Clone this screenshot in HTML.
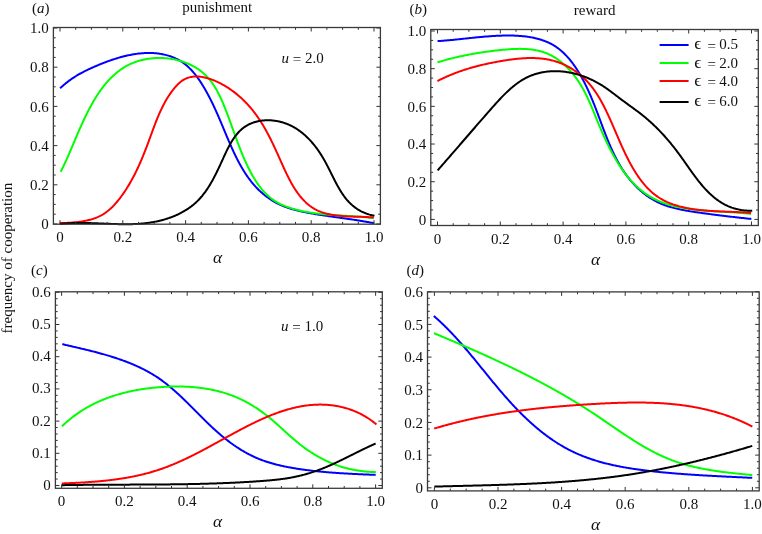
<!DOCTYPE html>
<html><head><meta charset="utf-8"><style>
html,body{margin:0;padding:0;background:#fff;}
svg{display:block;will-change:transform;}
text{font-family:"Liberation Serif", serif;fill:#111;}
</style></head><body>
<svg width="762" height="534" viewBox="0 0 762 534">
<path d="M60.13,88.32L60.89,87.59L61.65,86.88L62.42,86.18L63.19,85.49L63.96,84.81L64.74,84.15L65.53,83.50L66.31,82.86L67.11,82.23L67.91,81.62L68.71,81.01L69.52,80.41L70.33,79.83L71.15,79.25L71.97,78.68L72.80,78.13L73.63,77.58L74.47,77.04L75.31,76.51L76.15,75.99L77.00,75.48L77.85,74.97L78.71,74.47L79.57,73.98L80.44,73.50L81.31,73.02L82.18,72.55L83.06,72.09L83.94,71.63L84.83,71.18L85.72,70.73L86.62,70.29L87.52,69.85L88.42,69.42L89.33,69.00L90.24,68.57L91.16,68.16L92.08,67.74L93.00,67.33L93.93,66.92L94.86,66.52L95.79,66.12L96.73,65.72L97.68,65.32L98.62,64.93L99.57,64.53L100.52,64.15L101.48,63.76L102.44,63.38L103.40,63.00L104.37,62.63L105.34,62.26L106.31,61.89L107.29,61.53L108.26,61.18L109.24,60.82L110.23,60.48L111.21,60.14L112.20,59.80L113.19,59.47L114.18,59.15L115.18,58.83L116.17,58.51L117.17,58.21L118.17,57.91L119.17,57.62L120.17,57.33L121.18,57.05L122.18,56.78L123.19,56.52L124.20,56.26L125.21,56.02L126.22,55.78L127.23,55.55L128.25,55.32L129.26,55.11L130.27,54.91L131.29,54.71L132.30,54.52L133.32,54.35L134.33,54.18L135.35,54.02L136.37,53.87L137.38,53.74L138.40,53.61L139.42,53.50L140.43,53.39L141.45,53.30L142.46,53.22L143.48,53.14L144.49,53.09L145.51,53.04L146.52,53.00L147.53,52.98L148.54,52.97L149.55,52.97L150.56,52.99L151.57,53.01L152.57,53.05L153.58,53.11L154.58,53.18L155.58,53.26L156.57,53.35L157.57,53.46L158.56,53.59L159.55,53.72L160.53,53.87L161.51,54.04L162.48,54.22L163.46,54.42L164.42,54.63L165.38,54.85L166.34,55.10L167.29,55.35L168.23,55.62L169.17,55.91L170.11,56.22L171.03,56.54L171.95,56.87L172.86,57.22L173.77,57.59L174.66,57.98L175.55,58.38L176.43,58.80L177.30,59.24L178.17,59.69L179.02,60.16L179.87,60.65L180.70,61.16L181.53,61.68L182.34,62.22L183.15,62.78L183.94,63.36L184.73,63.96L185.50,64.57L186.26,65.20L187.02,65.85L187.76,66.51L188.49,67.19L189.22,67.88L189.93,68.59L190.64,69.31L191.33,70.04L192.02,70.79L192.70,71.54L193.37,72.31L194.03,73.10L194.68,73.89L195.32,74.69L195.95,75.50L196.58,76.32L197.20,77.15L197.81,77.99L198.41,78.83L199.01,79.68L199.59,80.54L200.17,81.41L200.75,82.28L201.31,83.15L201.87,84.03L202.42,84.91L202.97,85.80L203.51,86.69L204.04,87.58L204.56,88.47L205.08,89.37L205.60,90.26L206.10,91.16L206.61,92.06L207.10,92.96L207.59,93.86L208.08,94.76L208.56,95.66L209.03,96.56L209.50,97.46L209.97,98.37L210.43,99.27L210.88,100.18L211.34,101.09L211.78,102.00L212.23,102.90L212.67,103.81L213.11,104.73L213.54,105.64L213.97,106.55L214.39,107.47L214.82,108.38L215.24,109.30L215.65,110.21L216.07,111.13L216.48,112.05L216.89,112.97L217.30,113.89L217.70,114.81L218.11,115.74L218.51,116.66L218.91,117.58L219.31,118.51L219.70,119.44L220.10,120.37L220.49,121.29L220.89,122.22L221.28,123.16L221.67,124.09L222.06,125.02L222.45,125.95L222.85,126.89L223.24,127.82L223.63,128.76L224.02,129.70L224.41,130.64L224.80,131.58L225.20,132.52L225.59,133.46L225.99,134.40L226.38,135.35L226.78,136.29L227.18,137.24L227.58,138.18L227.98,139.13L228.39,140.08L228.79,141.02L229.20,141.97L229.61,142.92L230.02,143.86L230.43,144.81L230.85,145.75L231.27,146.70L231.69,147.64L232.12,148.58L232.55,149.53L232.98,150.46L233.41,151.40L233.85,152.34L234.29,153.27L234.73,154.21L235.18,155.14L235.63,156.06L236.09,156.99L236.55,157.91L237.02,158.83L237.48,159.75L237.96,160.66L238.44,161.57L238.92,162.48L239.40,163.38L239.90,164.28L240.39,165.18L240.90,166.07L241.40,166.96L241.92,167.84L242.44,168.72L242.96,169.59L243.49,170.46L244.03,171.33L244.57,172.18L245.12,173.04L245.67,173.89L246.23,174.73L246.80,175.57L247.37,176.40L247.95,177.22L248.54,178.04L249.14,178.85L249.74,179.66L250.35,180.46L250.96,181.25L251.59,182.03L252.22,182.81L252.86,183.58L253.51,184.35L254.16,185.10L254.83,185.85L255.50,186.59L256.18,187.32L256.87,188.05L257.56,188.76L258.27,189.47L258.98,190.17L259.71,190.86L260.44,191.54L261.18,192.21L261.92,192.87L262.68,193.52L263.44,194.16L264.21,194.80L264.99,195.42L265.78,196.03L266.57,196.64L267.38,197.23L268.19,197.81L269.00,198.39L269.83,198.95L270.66,199.50L271.50,200.04L272.35,200.57L273.20,201.08L274.06,201.59L274.93,202.08L275.80,202.57L276.69,203.04L277.58,203.50L278.47,203.94L279.37,204.38L280.28,204.80L281.20,205.21L282.12,205.61L283.04,205.99L283.98,206.37L284.92,206.73L285.86,207.08L286.81,207.42L287.77,207.76L288.72,208.08L289.69,208.39L290.66,208.69L291.63,208.99L292.61,209.27L293.59,209.55L294.57,209.82L295.56,210.08L296.55,210.33L297.54,210.58L298.54,210.82L299.54,211.05L300.54,211.28L301.54,211.50L302.55,211.72L303.55,211.93L304.56,212.13L305.57,212.33L306.58,212.53L307.59,212.72L308.61,212.91L309.62,213.09L310.63,213.28L311.65,213.45L312.66,213.63L313.67,213.80L314.69,213.98L315.70,214.14L316.72,214.31L317.73,214.48L318.74,214.64L319.76,214.80L320.77,214.96L321.78,215.11L322.79,215.27L323.81,215.42L324.82,215.58L325.83,215.73L326.84,215.88L327.86,216.02L328.87,216.17L329.88,216.32L330.89,216.46L331.90,216.61L332.91,216.75L333.92,216.89L334.93,217.04L335.94,217.18L336.95,217.32L337.96,217.46L338.97,217.61L339.97,217.75L340.98,217.89L341.99,218.03L343.00,218.17L344.00,218.32L345.01,218.46L346.01,218.60L347.02,218.75L348.02,218.89L349.03,219.04L350.03,219.18L351.03,219.33L352.03,219.48L353.03,219.63L354.03,219.78L355.03,219.94L356.03,220.09L357.03,220.25L358.03,220.41L359.03,220.57L360.02,220.73L361.02,220.89L362.01,221.06L363.01,221.23L364.00,221.40L364.99,221.57L365.99,221.74L366.98,221.92L367.97,222.10L368.96,222.29L369.95,222.47L370.93,222.66L371.92,222.85L372.91,223.05L373.89,223.25" fill="none" stroke="#0000ff" stroke-width="2" stroke-linejoin="round" stroke-linecap="butt"/>
<path d="M60.70,171.70L61.16,170.83L61.61,169.94L62.06,169.05L62.52,168.15L62.97,167.23L63.41,166.31L63.86,165.38L64.31,164.44L64.75,163.49L65.20,162.53L65.64,161.57L66.09,160.59L66.53,159.61L66.97,158.62L67.42,157.63L67.86,156.62L68.30,155.61L68.75,154.60L69.19,153.58L69.63,152.55L70.08,151.51L70.52,150.47L70.97,149.43L71.41,148.38L71.86,147.32L72.31,146.27L72.76,145.20L73.21,144.14L73.66,143.06L74.12,141.99L74.57,140.91L75.03,139.83L75.49,138.75L75.95,137.66L76.42,136.57L76.88,135.48L77.35,134.39L77.82,133.30L78.29,132.20L78.77,131.11L79.25,130.01L79.73,128.91L80.21,127.81L80.70,126.72L81.19,125.62L81.69,124.52L82.19,123.43L82.69,122.33L83.19,121.24L83.70,120.14L84.22,119.05L84.73,117.96L85.25,116.87L85.78,115.79L86.31,114.71L86.85,113.63L87.39,112.55L87.93,111.48L88.48,110.41L89.03,109.35L89.59,108.28L90.16,107.23L90.73,106.18L91.30,105.13L91.88,104.09L92.47,103.05L93.06,102.02L93.66,100.99L94.26,99.97L94.87,98.96L95.49,97.96L96.11,96.96L96.74,95.96L97.38,94.98L98.02,94.00L98.67,93.03L99.33,92.07L99.99,91.12L100.66,90.17L101.34,89.24L102.02,88.31L102.72,87.39L103.42,86.48L104.13,85.59L104.84,84.70L105.57,83.82L106.30,82.95L107.04,82.10L107.79,81.25L108.54,80.42L109.31,79.59L110.08,78.78L110.87,77.98L111.66,77.20L112.46,76.42L113.27,75.66L114.09,74.91L114.92,74.18L115.76,73.46L116.61,72.75L117.46,72.05L118.33,71.37L119.21,70.71L120.09,70.06L120.99,69.42L121.90,68.80L122.82,68.20L123.75,67.61L124.69,67.03L125.64,66.48L126.60,65.93L127.57,65.41L128.55,64.90L129.55,64.41L130.55,63.94L131.57,63.49L132.60,63.05L133.64,62.63L134.69,62.23L135.75,61.85L136.82,61.48L137.90,61.14L138.99,60.81L140.09,60.50L141.20,60.21L142.32,59.93L143.44,59.68L144.57,59.44L145.71,59.22L146.85,59.02L148.00,58.83L149.15,58.67L150.31,58.52L151.48,58.39L152.64,58.28L153.81,58.19L154.99,58.11L156.16,58.05L157.34,58.01L158.52,57.99L159.70,57.99L160.89,58.01L162.07,58.04L163.25,58.09L164.43,58.16L165.62,58.25L166.80,58.36L167.97,58.48L169.15,58.62L170.32,58.78L171.49,58.96L172.66,59.16L173.82,59.37L174.97,59.60L176.13,59.85L177.27,60.12L178.41,60.41L179.55,60.71L180.68,61.03L181.80,61.37L182.91,61.73L184.01,62.11L185.11,62.51L186.19,62.92L187.27,63.35L188.34,63.80L189.40,64.27L190.44,64.75L191.48,65.25L192.50,65.78L193.51,66.31L194.51,66.87L195.49,67.45L196.47,68.04L197.42,68.65L198.37,69.28L199.30,69.93L200.21,70.59L201.11,71.28L201.99,71.98L202.85,72.70L203.70,73.44L204.53,74.19L205.34,74.97L206.14,75.76L206.91,76.57L207.68,77.39L208.42,78.23L209.15,79.08L209.87,79.96L210.57,80.84L211.25,81.74L211.92,82.65L212.58,83.57L213.22,84.51L213.85,85.46L214.47,86.42L215.07,87.39L215.66,88.37L216.24,89.36L216.81,90.37L217.37,91.37L217.92,92.39L218.46,93.42L218.98,94.45L219.50,95.49L220.01,96.54L220.51,97.59L221.00,98.65L221.49,99.71L221.96,100.78L222.43,101.85L222.90,102.93L223.35,104.01L223.80,105.09L224.25,106.17L224.68,107.26L225.12,108.34L225.55,109.43L225.97,110.51L226.39,111.60L226.81,112.68L227.22,113.77L227.63,114.85L228.04,115.94L228.44,117.02L228.84,118.10L229.24,119.18L229.64,120.27L230.03,121.35L230.42,122.43L230.81,123.51L231.20,124.59L231.59,125.67L231.98,126.75L232.37,127.83L232.75,128.91L233.14,129.98L233.52,131.06L233.91,132.14L234.30,133.21L234.68,134.29L235.07,135.36L235.46,136.43L235.85,137.51L236.24,138.58L236.63,139.65L237.03,140.72L237.42,141.79L237.82,142.86L238.22,143.93L238.63,144.99L239.03,146.06L239.44,147.13L239.86,148.19L240.27,149.26L240.69,150.32L241.12,151.38L241.55,152.44L241.98,153.50L242.42,154.56L242.86,155.62L243.31,156.68L243.76,157.74L244.22,158.79L244.68,159.85L245.15,160.90L245.63,161.95L246.11,163.00L246.60,164.06L247.10,165.10L247.60,166.15L248.11,167.20L248.63,168.25L249.15,169.29L249.69,170.33L250.23,171.37L250.78,172.41L251.33,173.44L251.90,174.47L252.47,175.50L253.06,176.51L253.65,177.53L254.26,178.53L254.87,179.53L255.49,180.52L256.13,181.50L256.77,182.47L257.42,183.44L258.09,184.39L258.77,185.33L259.45,186.26L260.15,187.18L260.86,188.09L261.59,188.99L262.32,189.87L263.07,190.73L263.83,191.58L264.60,192.42L265.39,193.24L266.18,194.04L267.00,194.83L267.82,195.60L268.66,196.35L269.52,197.09L270.38,197.80L271.27,198.49L272.16,199.17L273.08,199.82L274.00,200.45L274.95,201.06L275.90,201.65L276.87,202.21L277.85,202.76L278.85,203.29L279.85,203.81L280.87,204.30L281.90,204.78L282.94,205.24L283.99,205.68L285.04,206.11L286.11,206.52L287.18,206.92L288.26,207.30L289.35,207.67L290.44,208.02L291.54,208.36L292.64,208.69L293.75,209.01L294.86,209.32L295.97,209.62L297.09,209.90L298.21,210.18L299.33,210.45L300.45,210.70L301.58,210.95L302.71,211.19L303.84,211.42L304.98,211.64L306.12,211.85L307.26,212.05L308.40,212.25L309.54,212.44L310.68,212.62L311.83,212.79L312.98,212.96L314.13,213.12L315.28,213.27L316.43,213.42L317.59,213.56L318.74,213.70L319.90,213.83L321.05,213.95L322.21,214.07L323.37,214.19L324.53,214.30L325.69,214.40L326.85,214.50L328.01,214.60L329.18,214.70L330.34,214.79L331.50,214.88L332.66,214.96L333.83,215.05L334.99,215.13L336.15,215.20L337.31,215.28L338.48,215.36L339.64,215.43L340.80,215.50L341.96,215.57L343.12,215.65L344.28,215.72L345.44,215.79L346.60,215.86L347.75,215.93L348.91,216.00L350.06,216.07L351.21,216.14L352.37,216.22L353.52,216.30L354.66,216.37L355.81,216.45L356.96,216.54L358.10,216.62L359.24,216.71L360.38,216.80L361.52,216.89L362.65,216.99L363.79,217.09L364.92,217.19L366.05,217.30L367.17,217.42L368.30,217.54L369.42,217.66L370.53,217.79L371.65,217.92L372.76,218.06L373.87,218.21" fill="none" stroke="#00ff00" stroke-width="2" stroke-linejoin="round" stroke-linecap="butt"/>
<path d="M59.68,223.11L60.79,223.08L61.92,223.05L63.05,223.02L64.19,222.99L65.34,222.95L66.50,222.90L67.66,222.85L68.83,222.79L70.00,222.72L71.17,222.64L72.35,222.56L73.53,222.46L74.72,222.36L75.90,222.24L77.08,222.12L78.27,221.98L79.45,221.83L80.63,221.66L81.81,221.48L82.98,221.29L84.15,221.08L85.32,220.85L86.48,220.61L87.63,220.35L88.78,220.07L89.92,219.77L91.05,219.46L92.17,219.12L93.28,218.77L94.38,218.39L95.47,217.99L96.55,217.56L97.62,217.12L98.67,216.65L99.71,216.15L100.73,215.63L101.74,215.08L102.73,214.51L103.70,213.91L104.66,213.29L105.60,212.64L106.52,211.96L107.43,211.27L108.33,210.55L109.21,209.81L110.08,209.05L110.93,208.27L111.77,207.48L112.59,206.67L113.40,205.84L114.20,205.00L114.99,204.14L115.77,203.27L116.53,202.39L117.28,201.50L118.02,200.59L118.75,199.68L119.47,198.76L120.19,197.84L120.89,196.91L121.58,195.97L122.26,195.03L122.94,194.08L123.60,193.13L124.26,192.18L124.90,191.21L125.54,190.25L126.17,189.28L126.80,188.31L127.41,187.33L128.02,186.34L128.62,185.36L129.21,184.37L129.80,183.37L130.37,182.37L130.95,181.37L131.51,180.36L132.07,179.35L132.62,178.34L133.16,177.32L133.70,176.30L134.23,175.27L134.75,174.24L135.27,173.21L135.78,172.17L136.29,171.14L136.79,170.09L137.29,169.05L137.78,168.00L138.27,166.95L138.75,165.90L139.23,164.84L139.70,163.78L140.17,162.72L140.63,161.66L141.09,160.59L141.54,159.52L141.99,158.45L142.44,157.38L142.88,156.30L143.32,155.22L143.76,154.14L144.19,153.06L144.63,151.98L145.05,150.89L145.48,149.80L145.90,148.71L146.32,147.62L146.74,146.53L147.15,145.43L147.56,144.34L147.97,143.24L148.38,142.14L148.79,141.04L149.20,139.94L149.60,138.84L150.01,137.74L150.41,136.64L150.81,135.53L151.21,134.43L151.62,133.33L152.02,132.22L152.43,131.12L152.83,130.01L153.24,128.91L153.65,127.81L154.06,126.71L154.48,125.61L154.89,124.51L155.31,123.41L155.74,122.32L156.17,121.22L156.60,120.13L157.04,119.04L157.49,117.95L157.93,116.87L158.39,115.79L158.85,114.71L159.32,113.64L159.80,112.56L160.28,111.50L160.77,110.43L161.27,109.37L161.77,108.32L162.29,107.27L162.81,106.22L163.35,105.18L163.89,104.14L164.44,103.11L165.01,102.08L165.58,101.06L166.17,100.05L166.77,99.04L167.37,98.03L168.00,97.04L168.63,96.04L169.28,95.06L169.94,94.08L170.61,93.11L171.30,92.15L172.00,91.20L172.72,90.25L173.45,89.31L174.20,88.38L174.96,87.47L175.74,86.57L176.53,85.69L177.34,84.84L178.17,84.02L179.01,83.23L179.87,82.47L180.74,81.74L181.63,81.06L182.54,80.42L183.47,79.83L184.41,79.29L185.37,78.80L186.34,78.37L187.33,77.98L188.34,77.64L189.36,77.35L190.39,77.10L191.44,76.90L192.49,76.74L193.56,76.62L194.63,76.55L195.72,76.51L196.81,76.51L197.91,76.55L199.01,76.62L200.12,76.73L201.23,76.87L202.35,77.04L203.46,77.25L204.58,77.48L205.70,77.74L206.82,78.03L207.94,78.34L209.06,78.68L210.18,79.04L211.29,79.42L212.39,79.82L213.49,80.24L214.59,80.68L215.68,81.14L216.77,81.61L217.85,82.11L218.92,82.62L219.99,83.15L221.05,83.70L222.11,84.26L223.15,84.84L224.20,85.44L225.23,86.05L226.26,86.67L227.28,87.31L228.29,87.96L229.29,88.63L230.29,89.31L231.27,90.00L232.25,90.71L233.22,91.42L234.18,92.15L235.13,92.89L236.07,93.64L237.01,94.40L237.93,95.17L238.84,95.95L239.74,96.73L240.63,97.53L241.51,98.33L242.38,99.14L243.24,99.96L244.08,100.79L244.92,101.62L245.74,102.46L246.55,103.30L247.35,104.15L248.13,105.00L248.91,105.86L249.67,106.73L250.42,107.60L251.17,108.47L251.90,109.35L252.62,110.24L253.33,111.13L254.03,112.03L254.72,112.93L255.40,113.83L256.07,114.74L256.74,115.66L257.39,116.58L258.04,117.51L258.67,118.44L259.30,119.37L259.93,120.31L260.54,121.26L261.15,122.21L261.74,123.16L262.34,124.12L262.92,125.08L263.50,126.05L264.07,127.02L264.64,128.00L265.20,128.98L265.75,129.96L266.30,130.95L266.84,131.94L267.38,132.94L267.92,133.94L268.45,134.95L268.97,135.96L269.49,136.97L270.01,137.99L270.52,139.01L271.03,140.04L271.54,141.07L272.04,142.10L272.54,143.14L273.04,144.18L273.53,145.22L274.03,146.27L274.52,147.32L275.01,148.38L275.50,149.43L275.99,150.50L276.47,151.56L276.96,152.63L277.44,153.70L277.93,154.78L278.41,155.86L278.90,156.94L279.38,158.02L279.87,159.11L280.35,160.20L280.84,161.29L281.33,162.39L281.82,163.48L282.31,164.58L282.80,165.68L283.30,166.78L283.80,167.88L284.31,168.97L284.81,170.07L285.32,171.16L285.84,172.25L286.36,173.34L286.88,174.42L287.41,175.50L287.95,176.57L288.49,177.64L289.03,178.71L289.59,179.77L290.15,180.82L290.71,181.87L291.29,182.91L291.87,183.94L292.45,184.96L293.05,185.97L293.66,186.98L294.27,187.97L294.89,188.95L295.53,189.93L296.17,190.89L296.82,191.84L297.48,192.78L298.16,193.70L298.84,194.61L299.53,195.51L300.24,196.39L300.96,197.26L301.69,198.12L302.43,198.96L303.19,199.78L303.95,200.58L304.74,201.37L305.53,202.14L306.34,202.90L307.16,203.63L308.00,204.35L308.85,205.04L309.72,205.72L310.61,206.37L311.50,207.00L312.42,207.62L313.35,208.21L314.30,208.77L315.26,209.32L316.25,209.84L317.25,210.34L318.26,210.81L319.30,211.26L320.35,211.68L321.42,212.08L322.51,212.46L323.61,212.82L324.72,213.15L325.85,213.46L326.99,213.76L328.15,214.03L329.31,214.28L330.49,214.52L331.67,214.74L332.86,214.95L334.06,215.14L335.27,215.31L336.48,215.47L337.70,215.62L338.93,215.75L340.15,215.87L341.38,215.98L342.62,216.08L343.85,216.17L345.08,216.26L346.32,216.33L347.55,216.39L348.78,216.45L350.01,216.51L351.24,216.56L352.46,216.60L353.67,216.64L354.88,216.68L356.08,216.71L357.28,216.74L358.47,216.77L359.64,216.81L360.81,216.84L361.97,216.87L363.11,216.91L364.25,216.95L365.37,216.99L366.47,217.03L367.56,217.09L368.64,217.14L369.70,217.21L370.74,217.28L371.76,217.36L372.76,217.44L373.75,217.54" fill="none" stroke="#ff0000" stroke-width="2" stroke-linejoin="round" stroke-linecap="butt"/>
<path d="M60.02,224.08L61.03,223.96L62.03,223.85L63.04,223.75L64.05,223.65L65.05,223.56L66.06,223.48L67.07,223.40L68.08,223.34L69.09,223.27L70.11,223.22L71.12,223.16L72.13,223.12L73.15,223.08L74.16,223.05L75.17,223.02L76.19,223.00L77.21,222.98L78.22,222.96L79.24,222.95L80.26,222.95L81.28,222.95L82.30,222.95L83.31,222.96L84.33,222.97L85.35,222.99L86.38,223.00L87.40,223.02L88.42,223.05L89.44,223.07L90.46,223.10L91.48,223.13L92.51,223.17L93.53,223.20L94.55,223.24L95.58,223.28L96.60,223.31L97.62,223.36L98.65,223.40L99.67,223.44L100.70,223.48L101.72,223.53L102.74,223.57L103.77,223.62L104.79,223.66L105.82,223.70L106.84,223.75L107.87,223.79L108.89,223.83L109.92,223.87L110.94,223.91L111.97,223.95L112.99,223.99L114.02,224.02L115.04,224.05L116.07,224.08L117.09,224.11L118.11,224.14L119.14,224.16L120.16,224.18L121.19,224.20L122.21,224.21L123.23,224.22L124.25,224.23L125.28,224.23L126.30,224.23L127.32,224.23L128.34,224.22L129.36,224.20L130.38,224.18L131.40,224.16L132.42,224.13L133.44,224.10L134.46,224.06L135.48,224.01L136.50,223.96L137.52,223.90L138.53,223.84L139.55,223.77L140.56,223.69L141.58,223.61L142.59,223.52L143.61,223.42L144.62,223.32L145.63,223.21L146.65,223.08L147.66,222.96L148.67,222.82L149.68,222.68L150.69,222.52L151.70,222.36L152.70,222.19L153.71,222.01L154.72,221.82L155.72,221.63L156.72,221.42L157.73,221.20L158.73,220.97L159.73,220.74L160.73,220.49L161.73,220.23L162.72,219.97L163.72,219.69L164.71,219.40L165.70,219.10L166.68,218.80L167.66,218.48L168.64,218.15L169.62,217.81L170.59,217.46L171.55,217.10L172.51,216.73L173.47,216.35L174.42,215.96L175.36,215.56L176.30,215.15L177.24,214.73L178.16,214.30L179.08,213.85L180.00,213.40L180.91,212.93L181.80,212.46L182.70,211.97L183.58,211.48L184.46,210.97L185.32,210.45L186.18,209.92L187.03,209.38L187.87,208.83L188.70,208.27L189.52,207.69L190.33,207.11L191.13,206.51L191.92,205.91L192.70,205.29L193.47,204.66L194.23,204.02L194.97,203.37L195.71,202.71L196.43,202.03L197.14,201.35L197.84,200.65L198.53,199.95L199.21,199.23L199.87,198.51L200.53,197.77L201.18,197.03L201.82,196.28L202.45,195.51L203.07,194.74L203.68,193.96L204.28,193.17L204.88,192.37L205.47,191.57L206.04,190.76L206.61,189.93L207.18,189.11L207.73,188.27L208.28,187.43L208.82,186.58L209.36,185.72L209.88,184.86L210.41,183.99L210.92,183.11L211.43,182.23L211.94,181.34L212.44,180.45L212.93,179.55L213.42,178.64L213.90,177.74L214.38,176.82L214.86,175.90L215.33,174.98L215.80,174.05L216.26,173.12L216.73,172.19L217.18,171.25L217.64,170.31L218.09,169.37L218.54,168.42L218.99,167.47L219.44,166.52L219.88,165.56L220.32,164.60L220.76,163.65L221.20,162.68L221.64,161.72L222.08,160.76L222.52,159.79L222.96,158.83L223.40,157.86L223.84,156.90L224.28,155.93L224.72,154.97L225.17,154.01L225.62,153.05L226.08,152.09L226.54,151.13L227.00,150.18L227.47,149.24L227.95,148.29L228.43,147.35L228.92,146.42L229.42,145.50L229.93,144.57L230.44,143.66L230.97,142.75L231.50,141.86L232.05,140.97L232.60,140.09L233.17,139.22L233.74,138.36L234.33,137.51L234.93,136.68L235.54,135.86L236.17,135.06L236.80,134.27L237.45,133.50L238.12,132.74L238.79,132.01L239.48,131.29L240.19,130.59L240.90,129.92L241.64,129.26L242.39,128.63L243.15,128.02L243.93,127.43L244.72,126.87L245.53,126.33L246.35,125.82L247.19,125.33L248.04,124.86L248.91,124.42L249.78,124.00L250.67,123.60L251.57,123.23L252.48,122.87L253.40,122.55L254.32,122.24L255.26,121.96L256.21,121.70L257.16,121.46L258.12,121.24L259.09,121.04L260.07,120.87L261.05,120.72L262.03,120.59L263.02,120.48L264.02,120.39L265.02,120.33L266.02,120.28L267.02,120.25L268.03,120.25L269.04,120.27L270.05,120.30L271.06,120.36L272.07,120.43L273.08,120.53L274.09,120.65L275.09,120.78L276.10,120.94L277.10,121.11L278.10,121.31L279.09,121.52L280.08,121.75L281.07,122.00L282.05,122.27L283.03,122.56L284.00,122.86L284.96,123.19L285.91,123.53L286.86,123.89L287.80,124.27L288.73,124.66L289.65,125.07L290.56,125.50L291.46,125.95L292.36,126.41L293.25,126.89L294.13,127.38L295.00,127.89L295.86,128.42L296.71,128.96L297.56,129.51L298.40,130.08L299.22,130.66L300.05,131.26L300.86,131.87L301.66,132.50L302.46,133.13L303.24,133.78L304.02,134.44L304.79,135.12L305.55,135.81L306.31,136.50L307.05,137.21L307.79,137.93L308.52,138.66L309.24,139.41L309.95,140.16L310.65,140.92L311.35,141.69L312.03,142.47L312.71,143.26L313.38,144.06L314.04,144.87L314.70,145.68L315.34,146.51L315.98,147.34L316.61,148.18L317.23,149.02L317.84,149.88L318.44,150.74L319.04,151.60L319.63,152.48L320.20,153.35L320.77,154.24L321.34,155.13L321.89,156.02L322.44,156.92L322.97,157.82L323.50,158.73L324.03,159.64L324.54,160.55L325.05,161.47L325.55,162.39L326.05,163.31L326.54,164.23L327.03,165.16L327.51,166.09L327.99,167.02L328.46,167.95L328.93,168.88L329.40,169.81L329.86,170.74L330.33,171.67L330.79,172.60L331.25,173.53L331.71,174.45L332.17,175.38L332.63,176.30L333.09,177.22L333.55,178.14L334.01,179.06L334.47,179.97L334.94,180.88L335.40,181.78L335.87,182.68L336.35,183.58L336.82,184.47L337.30,185.36L337.79,186.24L338.28,187.11L338.78,187.98L339.28,188.84L339.79,189.70L340.30,190.54L340.82,191.38L341.35,192.22L341.89,193.04L342.43,193.86L342.99,194.67L343.55,195.46L344.12,196.25L344.70,197.03L345.29,197.80L345.89,198.56L346.51,199.31L347.13,200.05L347.77,200.77L348.42,201.49L349.08,202.19L349.76,202.88L350.44,203.56L351.15,204.23L351.86,204.88L352.59,205.52L353.34,206.14L354.10,206.75L354.88,207.35L355.68,207.93L356.49,208.49L357.32,209.05L358.16,209.58L359.03,210.10L359.91,210.60L360.81,211.09L361.73,211.56L362.67,212.01L363.63,212.44L364.62,212.86L365.62,213.26L366.64,213.64L367.69,214.00L368.75,214.34L369.84,214.66L370.96,214.96L372.09,215.24L373.25,215.50L374.44,215.74" fill="none" stroke="#000000" stroke-width="2" stroke-linejoin="round" stroke-linecap="butt"/>
<path d="M60.00,224.20v-4.00M60.00,27.50v4.00M75.70,224.20v-2.30M75.70,27.50v2.30M91.40,224.20v-2.30M91.40,27.50v2.30M107.10,224.20v-2.30M107.10,27.50v2.30M122.80,224.20v-4.00M122.80,27.50v4.00M138.50,224.20v-2.30M138.50,27.50v2.30M154.20,224.20v-2.30M154.20,27.50v2.30M169.90,224.20v-2.30M169.90,27.50v2.30M185.60,224.20v-4.00M185.60,27.50v4.00M201.30,224.20v-2.30M201.30,27.50v2.30M217.00,224.20v-2.30M217.00,27.50v2.30M232.70,224.20v-2.30M232.70,27.50v2.30M248.40,224.20v-4.00M248.40,27.50v4.00M264.10,224.20v-2.30M264.10,27.50v2.30M279.80,224.20v-2.30M279.80,27.50v2.30M295.50,224.20v-2.30M295.50,27.50v2.30M311.20,224.20v-4.00M311.20,27.50v4.00M326.90,224.20v-2.30M326.90,27.50v2.30M342.60,224.20v-2.30M342.60,27.50v2.30M358.30,224.20v-2.30M358.30,27.50v2.30M374.00,224.20v-4.00M374.00,27.50v4.00M53.40,224.00h4.00M380.40,224.00h-4.00M53.40,214.20h2.30M380.40,214.20h-2.30M53.40,204.40h2.30M380.40,204.40h-2.30M53.40,194.60h2.30M380.40,194.60h-2.30M53.40,184.80h4.00M380.40,184.80h-4.00M53.40,175.00h2.30M380.40,175.00h-2.30M53.40,165.20h2.30M380.40,165.20h-2.30M53.40,155.40h2.30M380.40,155.40h-2.30M53.40,145.60h4.00M380.40,145.60h-4.00M53.40,135.80h2.30M380.40,135.80h-2.30M53.40,126.00h2.30M380.40,126.00h-2.30M53.40,116.20h2.30M380.40,116.20h-2.30M53.40,106.40h4.00M380.40,106.40h-4.00M53.40,96.60h2.30M380.40,96.60h-2.30M53.40,86.80h2.30M380.40,86.80h-2.30M53.40,77.00h2.30M380.40,77.00h-2.30M53.40,67.20h4.00M380.40,67.20h-4.00M53.40,57.40h2.30M380.40,57.40h-2.30M53.40,47.60h2.30M380.40,47.60h-2.30M53.40,37.80h2.30M380.40,37.80h-2.30M53.40,28.00h4.00M380.40,28.00h-4.00" stroke="#333" stroke-width="1" fill="none"/>
<rect x="53.40" y="27.50" width="327.00" height="196.70" fill="none" stroke="#3a3a3a" stroke-width="1.3"/>
<path d="M437.57,41.10L438.58,41.04L439.59,40.97L440.60,40.90L441.61,40.83L442.62,40.75L443.63,40.68L444.64,40.60L445.64,40.51L446.65,40.43L447.66,40.34L448.66,40.25L449.67,40.16L450.68,40.07L451.68,39.97L452.69,39.88L453.69,39.78L454.69,39.68L455.70,39.58L456.70,39.48L457.71,39.37L458.71,39.27L459.72,39.16L460.72,39.06L461.73,38.95L462.73,38.84L463.74,38.74L464.74,38.63L465.75,38.52L466.75,38.41L467.76,38.31L468.77,38.20L469.77,38.09L470.78,37.99L471.79,37.88L472.80,37.78L473.81,37.67L474.82,37.57L475.83,37.47L476.84,37.37L477.85,37.27L478.87,37.17L479.88,37.08L480.90,36.98L481.91,36.89L482.93,36.80L483.95,36.71L484.97,36.62L485.99,36.54L487.01,36.46L488.03,36.38L489.05,36.30L490.08,36.23L491.10,36.16L492.13,36.09L493.16,36.02L494.19,35.96L495.22,35.90L496.25,35.85L497.29,35.80L498.33,35.75L499.36,35.71L500.40,35.67L501.45,35.63L502.49,35.60L503.53,35.58L504.58,35.56L505.62,35.54L506.67,35.53L507.72,35.52L508.76,35.52L509.81,35.53L510.86,35.54L511.91,35.56L512.95,35.58L514.00,35.61L515.04,35.65L516.09,35.69L517.13,35.75L518.17,35.81L519.21,35.88L520.25,35.95L521.28,36.04L522.31,36.13L523.34,36.23L524.37,36.34L525.40,36.46L526.42,36.59L527.43,36.73L528.45,36.88L529.46,37.04L530.47,37.21L531.47,37.39L532.47,37.58L533.46,37.78L534.45,37.99L535.43,38.21L536.41,38.45L537.39,38.70L538.35,38.95L539.32,39.23L540.27,39.51L541.22,39.81L542.17,40.11L543.10,40.44L544.03,40.77L544.96,41.12L545.87,41.49L546.78,41.86L547.69,42.25L548.58,42.66L549.46,43.08L550.34,43.51L551.21,43.96L552.07,44.43L552.92,44.91L553.77,45.41L554.60,45.92L555.43,46.45L556.24,47.00L557.05,47.56L557.84,48.13L558.63,48.72L559.41,49.33L560.18,49.95L560.94,50.58L561.69,51.23L562.43,51.89L563.17,52.57L563.89,53.26L564.61,53.96L565.32,54.67L566.02,55.39L566.71,56.12L567.39,56.87L568.07,57.63L568.73,58.39L569.39,59.17L570.04,59.95L570.69,60.75L571.32,61.55L571.95,62.36L572.57,63.18L573.18,64.01L573.78,64.84L574.38,65.69L574.97,66.53L575.55,67.39L576.13,68.25L576.70,69.12L577.26,69.99L577.81,70.87L578.36,71.75L578.90,72.63L579.43,73.52L579.96,74.42L580.48,75.31L580.99,76.21L581.50,77.12L582.00,78.02L582.49,78.93L582.98,79.83L583.46,80.74L583.94,81.66L584.41,82.57L584.87,83.48L585.33,84.40L585.78,85.32L586.23,86.24L586.68,87.16L587.12,88.08L587.55,89.01L587.98,89.93L588.40,90.86L588.82,91.79L589.24,92.72L589.65,93.65L590.06,94.58L590.46,95.51L590.86,96.45L591.26,97.38L591.66,98.32L592.05,99.26L592.43,100.20L592.82,101.14L593.20,102.08L593.58,103.03L593.96,103.97L594.33,104.92L594.70,105.86L595.07,106.81L595.44,107.76L595.81,108.71L596.17,109.66L596.54,110.61L596.90,111.56L597.26,112.51L597.62,113.47L597.98,114.42L598.33,115.37L598.69,116.33L599.05,117.29L599.41,118.24L599.76,119.20L600.12,120.16L600.47,121.12L600.83,122.08L601.19,123.03L601.54,123.99L601.90,124.95L602.26,125.92L602.62,126.88L602.98,127.84L603.34,128.80L603.71,129.76L604.07,130.72L604.44,131.68L604.81,132.64L605.18,133.59L605.55,134.55L605.92,135.51L606.30,136.47L606.68,137.42L607.06,138.37L607.44,139.33L607.83,140.28L608.22,141.23L608.61,142.18L609.00,143.12L609.40,144.07L609.80,145.01L610.21,145.95L610.62,146.89L611.03,147.83L611.45,148.77L611.87,149.70L612.30,150.63L612.73,151.56L613.16,152.48L613.60,153.40L614.05,154.32L614.49,155.24L614.95,156.15L615.41,157.06L615.87,157.97L616.34,158.87L616.82,159.77L617.30,160.67L617.79,161.56L618.28,162.45L618.78,163.34L619.28,164.22L619.80,165.10L620.31,165.97L620.84,166.84L621.37,167.70L621.91,168.56L622.46,169.42L623.01,170.27L623.57,171.11L624.14,171.96L624.71,172.79L625.30,173.62L625.89,174.45L626.49,175.27L627.09,176.08L627.71,176.89L628.33,177.69L628.96,178.49L629.60,179.28L630.24,180.07L630.90,180.84L631.56,181.62L632.23,182.38L632.90,183.14L633.59,183.89L634.28,184.63L634.98,185.36L635.69,186.09L636.40,186.81L637.12,187.52L637.85,188.22L638.59,188.91L639.33,189.60L640.08,190.27L640.84,190.94L641.60,191.59L642.37,192.24L643.15,192.88L643.94,193.51L644.73,194.12L645.53,194.73L646.34,195.33L647.16,195.92L647.98,196.49L648.81,197.06L649.64,197.61L650.49,198.15L651.33,198.68L652.19,199.20L653.05,199.71L653.92,200.21L654.80,200.69L655.68,201.16L656.57,201.62L657.47,202.06L658.37,202.50L659.28,202.92L660.19,203.32L661.12,203.72L662.04,204.10L662.98,204.48L663.91,204.84L664.86,205.19L665.81,205.53L666.76,205.86L667.72,206.18L668.68,206.49L669.65,206.79L670.62,207.08L671.60,207.36L672.58,207.63L673.57,207.90L674.55,208.15L675.55,208.40L676.54,208.64L677.54,208.88L678.54,209.10L679.54,209.32L680.55,209.54L681.56,209.75L682.57,209.95L683.58,210.14L684.60,210.33L685.62,210.52L686.63,210.70L687.65,210.88L688.68,211.05L689.70,211.22L690.72,211.38L691.75,211.54L692.77,211.70L693.80,211.85L694.82,212.01L695.85,212.16L696.87,212.30L697.90,212.45L698.92,212.60L699.95,212.74L700.97,212.88L701.99,213.02L703.01,213.16L704.03,213.30L705.05,213.44L706.07,213.58L707.09,213.72L708.11,213.86L709.13,213.99L710.15,214.13L711.16,214.26L712.18,214.39L713.19,214.53L714.21,214.66L715.22,214.79L716.23,214.92L717.24,215.05L718.26,215.17L719.27,215.30L720.28,215.43L721.29,215.55L722.30,215.68L723.31,215.80L724.31,215.92L725.32,216.05L726.33,216.17L727.33,216.29L728.34,216.41L729.35,216.53L730.35,216.64L731.36,216.76L732.36,216.88L733.36,216.99L734.37,217.11L735.37,217.22L736.37,217.34L737.37,217.45L738.37,217.56L739.37,217.67L740.38,217.78L741.38,217.89L742.37,218.00L743.37,218.11L744.37,218.21L745.37,218.32L746.37,218.43L747.37,218.53L748.37,218.64L749.36,218.74L750.36,218.84L751.36,218.94" fill="none" stroke="#0000ff" stroke-width="2" stroke-linejoin="round" stroke-linecap="butt"/>
<path d="M437.48,62.33L438.45,62.04L439.41,61.76L440.38,61.47L441.34,61.19L442.31,60.92L443.27,60.65L444.24,60.38L445.20,60.11L446.16,59.85L447.12,59.59L448.09,59.34L449.05,59.08L450.01,58.84L450.97,58.59L451.93,58.35L452.89,58.11L453.85,57.88L454.81,57.64L455.77,57.42L456.72,57.19L457.68,56.97L458.64,56.75L459.60,56.53L460.56,56.32L461.52,56.11L462.48,55.91L463.44,55.70L464.40,55.50L465.36,55.31L466.33,55.11L467.29,54.92L468.25,54.73L469.21,54.55L470.18,54.36L471.14,54.18L472.10,54.01L473.07,53.83L474.04,53.66L475.00,53.50L475.97,53.33L476.94,53.17L477.91,53.01L478.88,52.85L479.85,52.70L480.82,52.54L481.80,52.39L482.77,52.25L483.75,52.10L484.73,51.96L485.70,51.82L486.69,51.69L487.67,51.55L488.65,51.42L489.63,51.29L490.62,51.16L491.61,51.04L492.60,50.92L493.59,50.80L494.58,50.68L495.58,50.57L496.57,50.45L497.57,50.34L498.57,50.23L499.57,50.13L500.58,50.02L501.58,49.92L502.59,49.82L503.60,49.73L504.61,49.64L505.62,49.55L506.63,49.46L507.65,49.38L508.66,49.30L509.68,49.23L510.69,49.17L511.71,49.11L512.72,49.05L513.74,49.00L514.75,48.96L515.77,48.93L516.78,48.90L517.79,48.88L518.80,48.87L519.81,48.86L520.82,48.87L521.83,48.88L522.83,48.90L523.84,48.93L524.84,48.98L525.83,49.03L526.83,49.09L527.82,49.16L528.81,49.25L529.80,49.34L530.78,49.45L531.76,49.57L532.74,49.70L533.71,49.85L534.68,50.01L535.65,50.18L536.61,50.36L537.56,50.56L538.51,50.78L539.46,51.00L540.40,51.25L541.33,51.51L542.26,51.78L543.19,52.07L544.11,52.38L545.02,52.70L545.92,53.04L546.82,53.40L547.72,53.78L548.60,54.17L549.48,54.58L550.36,55.01L551.22,55.45L552.08,55.91L552.94,56.39L553.78,56.88L554.62,57.39L555.45,57.91L556.27,58.44L557.09,58.99L557.90,59.56L558.70,60.14L559.49,60.73L560.28,61.33L561.05,61.95L561.82,62.57L562.59,63.21L563.34,63.86L564.09,64.52L564.82,65.20L565.55,65.88L566.27,66.57L566.99,67.27L567.69,67.99L568.39,68.71L569.08,69.43L569.75,70.17L570.42,70.92L571.09,71.67L571.74,72.43L572.38,73.19L573.02,73.97L573.64,74.74L574.26,75.53L574.86,76.32L575.46,77.11L576.05,77.91L576.63,78.72L577.20,79.52L577.76,80.33L578.31,81.15L578.85,81.97L579.38,82.79L579.90,83.61L580.42,84.44L580.92,85.27L581.42,86.11L581.91,86.95L582.40,87.79L582.87,88.63L583.34,89.48L583.81,90.33L584.26,91.18L584.71,92.04L585.15,92.90L585.59,93.76L586.03,94.62L586.45,95.49L586.87,96.36L587.29,97.23L587.70,98.11L588.11,98.99L588.52,99.87L588.92,100.75L589.31,101.64L589.71,102.52L590.10,103.41L590.49,104.30L590.87,105.20L591.25,106.10L591.63,106.99L592.01,107.89L592.39,108.80L592.77,109.70L593.14,110.61L593.51,111.52L593.89,112.43L594.26,113.34L594.63,114.25L595.00,115.17L595.38,116.09L595.75,117.01L596.13,117.93L596.50,118.85L596.88,119.77L597.26,120.70L597.63,121.62L598.02,122.55L598.40,123.48L598.79,124.41L599.18,125.34L599.57,126.27L599.96,127.21L600.36,128.14L600.76,129.07L601.16,130.01L601.56,130.94L601.97,131.88L602.38,132.81L602.79,133.75L603.21,134.68L603.63,135.62L604.05,136.55L604.47,137.48L604.90,138.42L605.33,139.35L605.77,140.28L606.20,141.21L606.64,142.13L607.09,143.06L607.54,143.98L607.99,144.91L608.44,145.83L608.90,146.75L609.36,147.66L609.83,148.58L610.30,149.49L610.77,150.40L611.25,151.31L611.73,152.21L612.21,153.11L612.70,154.01L613.20,154.91L613.69,155.80L614.19,156.69L614.70,157.57L615.21,158.45L615.72,159.33L616.24,160.20L616.77,161.07L617.29,161.94L617.82,162.80L618.36,163.66L618.90,164.51L619.45,165.36L620.00,166.20L620.55,167.03L621.11,167.87L621.68,168.69L622.25,169.51L622.82,170.33L623.40,171.14L623.99,171.94L624.58,172.74L625.18,173.53L625.78,174.32L626.38,175.10L626.99,175.87L627.61,176.64L628.23,177.40L628.86,178.15L629.50,178.90L630.14,179.64L630.78,180.37L631.43,181.10L632.09,181.81L632.75,182.52L633.42,183.22L634.09,183.92L634.77,184.60L635.46,185.28L636.15,185.95L636.85,186.61L637.55,187.26L638.27,187.90L638.98,188.54L639.71,189.16L640.44,189.78L641.17,190.39L641.92,190.99L642.67,191.57L643.42,192.15L644.19,192.72L644.96,193.28L645.73,193.83L646.52,194.37L647.31,194.90L648.10,195.42L648.91,195.92L649.72,196.42L650.54,196.91L651.36,197.38L652.20,197.85L653.04,198.30L653.88,198.74L654.74,199.18L655.60,199.60L656.46,200.01L657.34,200.41L658.22,200.80L659.10,201.18L659.99,201.55L660.89,201.92L661.79,202.27L662.70,202.61L663.62,202.94L664.54,203.27L665.46,203.59L666.39,203.89L667.33,204.19L668.27,204.48L669.21,204.76L670.16,205.04L671.12,205.30L672.07,205.56L673.04,205.81L674.00,206.06L674.97,206.29L675.95,206.52L676.92,206.74L677.90,206.95L678.89,207.16L679.88,207.36L680.87,207.56L681.86,207.75L682.86,207.93L683.86,208.10L684.86,208.27L685.86,208.44L686.87,208.60L687.88,208.75L688.89,208.90L689.90,209.04L690.92,209.18L691.93,209.31L692.95,209.44L693.97,209.56L694.99,209.68L696.01,209.79L697.04,209.90L698.06,210.01L699.08,210.11L700.11,210.21L701.13,210.31L702.16,210.40L703.18,210.49L704.21,210.57L705.24,210.66L706.26,210.74L707.29,210.81L708.31,210.89L709.34,210.96L710.36,211.03L711.38,211.10L712.40,211.17L713.42,211.23L714.44,211.29L715.46,211.35L716.48,211.41L717.49,211.47L718.50,211.53L719.52,211.59L720.52,211.64L721.53,211.70L722.54,211.75L723.54,211.81L724.54,211.86L725.53,211.92L726.53,211.97L727.52,212.03L728.51,212.08L729.49,212.14L730.47,212.20L731.45,212.25L732.42,212.31L733.39,212.37L734.36,212.43L735.32,212.50L736.28,212.56L737.23,212.63L738.18,212.70L739.13,212.77L740.07,212.84L741.00,212.91L741.93,212.99L742.86,213.07L743.78,213.15L744.69,213.24L745.60,213.33L746.51,213.42L747.40,213.51L748.30,213.61L749.18,213.72L750.06,213.82L750.94,213.93" fill="none" stroke="#00ff00" stroke-width="2" stroke-linejoin="round" stroke-linecap="butt"/>
<path d="M437.47,81.04L438.35,80.58L439.24,80.13L440.12,79.69L441.01,79.25L441.90,78.82L442.79,78.40L443.69,77.98L444.58,77.57L445.47,77.16L446.37,76.76L447.27,76.36L448.17,75.97L449.07,75.58L449.97,75.20L450.87,74.83L451.77,74.46L452.68,74.09L453.59,73.73L454.50,73.38L455.41,73.03L456.32,72.68L457.23,72.34L458.14,72.01L459.06,71.68L459.98,71.35L460.89,71.03L461.81,70.72L462.73,70.41L463.66,70.10L464.58,69.80L465.51,69.50L466.43,69.21L467.36,68.92L468.29,68.63L469.22,68.35L470.16,68.07L471.09,67.80L472.03,67.53L472.97,67.27L473.91,67.01L474.85,66.75L475.79,66.50L476.73,66.25L477.68,66.01L478.63,65.77L479.58,65.53L480.53,65.29L481.48,65.06L482.43,64.84L483.39,64.61L484.35,64.39L485.30,64.17L486.27,63.96L487.23,63.75L488.19,63.54L489.16,63.34L490.12,63.13L491.09,62.94L492.06,62.74L493.04,62.55L494.01,62.36L494.99,62.17L495.97,61.99L496.95,61.80L497.93,61.62L498.91,61.45L499.90,61.27L500.88,61.10L501.87,60.93L502.86,60.77L503.85,60.60L504.85,60.44L505.84,60.28L506.84,60.13L507.83,59.98L508.83,59.84L509.83,59.69L510.83,59.56L511.83,59.42L512.83,59.30L513.83,59.17L514.83,59.06L515.83,58.94L516.83,58.84L517.84,58.74L518.84,58.64L519.84,58.55L520.84,58.47L521.84,58.40L522.84,58.33L523.84,58.26L524.84,58.21L525.84,58.16L526.84,58.12L527.83,58.09L528.83,58.07L529.82,58.05L530.82,58.04L531.81,58.04L532.80,58.05L533.79,58.07L534.78,58.10L535.76,58.14L536.74,58.19L537.72,58.24L538.70,58.31L539.68,58.39L540.66,58.47L541.63,58.57L542.60,58.68L543.56,58.80L544.53,58.93L545.49,59.07L546.45,59.23L547.40,59.39L548.35,59.57L549.30,59.76L550.25,59.96L551.19,60.18L552.13,60.41L553.06,60.65L553.99,60.90L554.92,61.17L555.84,61.45L556.76,61.74L557.68,62.05L558.59,62.37L559.49,62.71L560.39,63.05L561.29,63.41L562.18,63.79L563.07,64.17L563.95,64.57L564.83,64.98L565.70,65.40L566.56,65.84L567.42,66.29L568.27,66.74L569.12,67.21L569.96,67.70L570.80,68.19L571.63,68.69L572.45,69.21L573.27,69.74L574.08,70.28L574.88,70.82L575.68,71.38L576.47,71.95L577.25,72.53L578.03,73.13L578.80,73.73L579.56,74.34L580.31,74.96L581.05,75.59L581.79,76.23L582.52,76.88L583.24,77.54L583.95,78.21L584.66,78.89L585.35,79.57L586.04,80.27L586.72,80.97L587.39,81.69L588.05,82.41L588.70,83.14L589.35,83.88L589.98,84.62L590.60,85.38L591.22,86.14L591.83,86.91L592.43,87.69L593.02,88.47L593.60,89.26L594.18,90.06L594.75,90.86L595.31,91.67L595.86,92.49L596.41,93.31L596.94,94.14L597.48,94.97L598.00,95.81L598.52,96.65L599.03,97.50L599.54,98.35L600.04,99.21L600.54,100.07L601.03,100.93L601.51,101.80L601.99,102.68L602.46,103.55L602.93,104.43L603.39,105.31L603.85,106.20L604.30,107.09L604.75,107.98L605.20,108.87L605.64,109.77L606.08,110.66L606.51,111.56L606.94,112.46L607.37,113.36L607.79,114.26L608.21,115.17L608.63,116.07L609.04,116.97L609.45,117.88L609.86,118.78L610.27,119.69L610.67,120.60L611.08,121.51L611.48,122.41L611.88,123.32L612.27,124.23L612.67,125.14L613.06,126.05L613.46,126.96L613.85,127.87L614.24,128.78L614.63,129.69L615.03,130.60L615.42,131.51L615.81,132.42L616.20,133.33L616.59,134.24L616.98,135.15L617.37,136.06L617.76,136.97L618.15,137.88L618.54,138.79L618.93,139.70L619.33,140.61L619.73,141.51L620.12,142.42L620.52,143.33L620.92,144.23L621.32,145.14L621.73,146.04L622.14,146.94L622.54,147.84L622.96,148.74L623.37,149.64L623.79,150.54L624.21,151.44L624.63,152.34L625.05,153.23L625.48,154.12L625.92,155.02L626.35,155.91L626.79,156.80L627.24,157.69L627.69,158.57L628.14,159.46L628.59,160.34L629.06,161.22L629.52,162.10L629.99,162.98L630.47,163.86L630.95,164.73L631.44,165.60L631.93,166.47L632.42,167.34L632.93,168.20L633.43,169.06L633.95,169.92L634.47,170.77L634.99,171.62L635.52,172.46L636.06,173.30L636.60,174.13L637.15,174.96L637.70,175.79L638.26,176.60L638.83,177.41L639.40,178.22L639.98,179.02L640.57,179.81L641.16,180.60L641.76,181.38L642.37,182.15L642.98,182.91L643.60,183.66L644.23,184.41L644.86,185.15L645.51,185.88L646.15,186.60L646.81,187.31L647.47,188.01L648.15,188.70L648.83,189.39L649.51,190.06L650.21,190.72L650.91,191.37L651.62,192.01L652.34,192.64L653.06,193.25L653.80,193.86L654.54,194.45L655.29,195.03L656.05,195.60L656.82,196.15L657.59,196.69L658.38,197.22L659.17,197.74L659.97,198.24L660.78,198.73L661.60,199.20L662.43,199.67L663.26,200.12L664.10,200.56L664.95,200.99L665.81,201.40L666.67,201.81L667.54,202.20L668.42,202.58L669.30,202.95L670.19,203.31L671.09,203.66L671.99,204.00L672.90,204.33L673.82,204.64L674.74,204.95L675.66,205.25L676.59,205.54L677.53,205.82L678.47,206.09L679.42,206.35L680.37,206.60L681.32,206.84L682.28,207.08L683.25,207.31L684.21,207.52L685.19,207.73L686.16,207.94L687.14,208.13L688.13,208.32L689.11,208.50L690.10,208.67L691.09,208.84L692.09,209.00L693.09,209.15L694.09,209.30L695.09,209.44L696.10,209.57L697.11,209.70L698.11,209.82L699.13,209.94L700.14,210.05L701.15,210.16L702.17,210.26L703.18,210.35L704.20,210.45L705.22,210.53L706.24,210.62L707.26,210.70L708.28,210.77L709.30,210.85L710.32,210.91L711.34,210.98L712.36,211.04L713.38,211.10L714.40,211.16L715.41,211.21L716.43,211.26L717.45,211.31L718.46,211.36L719.47,211.40L720.49,211.45L721.50,211.49L722.50,211.53L723.51,211.57L724.51,211.61L725.51,211.64L726.51,211.68L727.51,211.72L728.50,211.75L729.49,211.79L730.48,211.83L731.47,211.86L732.45,211.90L733.42,211.94L734.40,211.98L735.37,212.01L736.33,212.06L737.29,212.10L738.25,212.14L739.20,212.19L740.15,212.23L741.09,212.28L742.03,212.33L742.96,212.39L743.89,212.44L744.81,212.50L745.73,212.56L746.64,212.63L747.54,212.70L748.44,212.77L749.33,212.84L750.22,212.92L751.09,213.01" fill="none" stroke="#ff0000" stroke-width="2" stroke-linejoin="round" stroke-linecap="butt"/>
<path d="M437.62,170.38L438.34,169.56L439.05,168.74L439.77,167.93L440.48,167.11L441.18,166.30L441.89,165.50L442.59,164.69L443.29,163.89L443.99,163.09L444.68,162.29L445.37,161.50L446.06,160.71L446.75,159.92L447.44,159.13L448.12,158.35L448.80,157.57L449.48,156.79L450.15,156.01L450.83,155.23L451.50,154.46L452.17,153.68L452.84,152.91L453.51,152.14L454.17,151.38L454.84,150.61L455.50,149.85L456.16,149.08L456.82,148.32L457.48,147.56L458.14,146.80L458.80,146.04L459.45,145.28L460.11,144.53L460.76,143.77L461.42,143.02L462.07,142.26L462.72,141.51L463.37,140.76L464.02,140.00L464.68,139.25L465.33,138.50L465.98,137.75L466.63,137.00L467.28,136.25L467.93,135.50L468.58,134.75L469.23,133.99L469.88,133.24L470.53,132.49L471.18,131.74L471.83,130.99L472.48,130.24L473.14,129.49L473.79,128.73L474.44,127.98L475.10,127.22L475.75,126.47L476.41,125.71L477.07,124.96L477.72,124.20L478.38,123.44L479.05,122.68L479.71,121.92L480.37,121.16L481.04,120.39L481.70,119.63L482.37,118.86L483.04,118.10L483.71,117.33L484.38,116.56L485.06,115.78L485.74,115.01L486.42,114.23L487.10,113.45L487.78,112.67L488.47,111.89L489.15,111.11L489.84,110.32L490.54,109.53L491.23,108.74L491.93,107.95L492.63,107.15L493.33,106.36L494.04,105.56L494.75,104.77L495.46,103.97L496.17,103.18L496.89,102.39L497.61,101.60L498.34,100.81L499.07,100.02L499.80,99.24L500.53,98.46L501.27,97.68L502.02,96.91L502.76,96.14L503.51,95.38L504.27,94.62L505.02,93.87L505.79,93.13L506.55,92.39L507.32,91.66L508.10,90.93L508.88,90.22L509.66,89.51L510.45,88.81L511.24,88.12L512.04,87.44L512.84,86.77L513.65,86.11L514.46,85.46L515.28,84.82L516.10,84.19L516.93,83.57L517.76,82.97L518.60,82.38L519.44,81.80L520.29,81.24L521.15,80.69L522.01,80.15L522.88,79.63L523.75,79.13L524.62,78.64L525.51,78.16L526.40,77.70L527.29,77.26L528.20,76.84L529.10,76.43L530.02,76.03L530.93,75.66L531.86,75.30L532.79,74.95L533.72,74.62L534.66,74.31L535.60,74.01L536.54,73.73L537.50,73.46L538.45,73.21L539.41,72.97L540.37,72.75L541.34,72.54L542.31,72.35L543.28,72.17L544.25,72.01L545.23,71.87L546.21,71.73L547.20,71.61L548.18,71.51L549.17,71.42L550.16,71.34L551.16,71.28L552.15,71.24L553.15,71.20L554.15,71.18L555.15,71.18L556.15,71.18L557.15,71.20L558.15,71.24L559.15,71.29L560.16,71.35L561.16,71.42L562.16,71.51L563.17,71.61L564.17,71.72L565.18,71.85L566.18,71.99L567.18,72.14L568.18,72.30L569.19,72.48L570.19,72.66L571.18,72.87L572.18,73.08L573.18,73.30L574.17,73.54L575.17,73.79L576.16,74.05L577.14,74.32L578.13,74.60L579.11,74.90L580.09,75.20L581.07,75.52L582.05,75.85L583.02,76.19L583.99,76.54L584.95,76.90L585.92,77.28L586.87,77.66L587.83,78.05L588.78,78.46L589.72,78.87L590.67,79.30L591.60,79.73L592.54,80.18L593.46,80.63L594.39,81.10L595.30,81.58L596.21,82.06L597.12,82.56L598.02,83.06L598.92,83.57L599.81,84.10L600.69,84.63L601.56,85.17L602.44,85.72L603.30,86.28L604.16,86.85L605.02,87.42L605.87,88.00L606.72,88.59L607.56,89.18L608.40,89.78L609.24,90.38L610.07,90.99L610.90,91.60L611.73,92.21L612.56,92.83L613.39,93.45L614.21,94.08L615.03,94.70L615.86,95.33L616.68,95.95L617.50,96.58L618.32,97.21L619.14,97.84L619.97,98.46L620.79,99.09L621.61,99.71L622.44,100.33L623.27,100.95L624.10,101.57L624.93,102.18L625.77,102.79L626.60,103.40L627.44,104.01L628.27,104.62L629.11,105.23L629.94,105.83L630.78,106.44L631.61,107.04L632.45,107.65L633.28,108.25L634.11,108.86L634.94,109.47L635.77,110.08L636.59,110.69L637.41,111.30L638.23,111.91L639.05,112.53L639.86,113.15L640.66,113.78L641.47,114.40L642.26,115.04L643.06,115.67L643.85,116.31L644.63,116.95L645.41,117.60L646.18,118.25L646.95,118.91L647.72,119.57L648.48,120.23L649.24,120.90L649.99,121.57L650.74,122.24L651.48,122.92L652.22,123.60L652.96,124.29L653.69,124.98L654.42,125.67L655.14,126.37L655.86,127.07L656.58,127.78L657.29,128.49L658.00,129.20L658.71,129.92L659.41,130.64L660.11,131.36L660.80,132.09L661.49,132.82L662.18,133.56L662.86,134.30L663.54,135.04L664.22,135.79L664.89,136.54L665.56,137.30L666.23,138.06L666.90,138.82L667.56,139.59L668.22,140.36L668.87,141.13L669.52,141.91L670.17,142.69L670.82,143.47L671.46,144.26L672.10,145.06L672.74,145.85L673.38,146.65L674.01,147.45L674.64,148.26L675.27,149.07L675.90,149.89L676.52,150.71L677.14,151.53L677.76,152.35L678.38,153.18L678.99,154.01L679.60,154.85L680.21,155.69L680.82,156.53L681.43,157.38L682.04,158.23L682.64,159.08L683.25,159.93L683.85,160.78L684.45,161.63L685.05,162.49L685.65,163.35L686.26,164.20L686.86,165.06L687.46,165.92L688.06,166.78L688.66,167.63L689.27,168.49L689.87,169.34L690.48,170.20L691.09,171.05L691.69,171.90L692.30,172.75L692.92,173.59L693.53,174.43L694.15,175.27L694.77,176.11L695.39,176.94L696.01,177.77L696.64,178.60L697.27,179.42L697.90,180.24L698.54,181.05L699.18,181.85L699.82,182.66L700.47,183.45L701.12,184.24L701.78,185.02L702.44,185.80L703.11,186.57L703.78,187.33L704.46,188.09L705.14,188.84L705.82,189.58L706.52,190.31L707.21,191.04L707.92,191.75L708.63,192.46L709.35,193.16L710.07,193.85L710.80,194.53L711.54,195.20L712.28,195.85L713.03,196.50L713.79,197.14L714.55,197.77L715.33,198.38L716.11,198.99L716.90,199.58L717.70,200.16L718.50,200.73L719.32,201.28L720.14,201.82L720.97,202.35L721.81,202.87L722.67,203.37L723.53,203.86L724.40,204.33L725.28,204.79L726.17,205.23L727.07,205.66L727.98,206.08L728.90,206.48L729.83,206.86L730.78,207.23L731.73,207.58L732.70,207.91L733.67,208.23L734.66,208.53L735.66,208.81L736.68,209.07L737.70,209.32L738.74,209.55L739.79,209.76L740.85,209.95L741.93,210.12L743.02,210.27L744.12,210.41L745.23,210.52L746.36,210.61L747.50,210.68L748.66,210.74L749.83,210.77L751.02,210.78L752.22,210.76" fill="none" stroke="#000000" stroke-width="2" stroke-linejoin="round" stroke-linecap="butt"/>
<path d="M437.50,225.50v-4.00M437.50,29.50v4.00M453.20,225.50v-2.30M453.20,29.50v2.30M468.90,225.50v-2.30M468.90,29.50v2.30M484.60,225.50v-2.30M484.60,29.50v2.30M500.30,225.50v-4.00M500.30,29.50v4.00M516.00,225.50v-2.30M516.00,29.50v2.30M531.70,225.50v-2.30M531.70,29.50v2.30M547.40,225.50v-2.30M547.40,29.50v2.30M563.10,225.50v-4.00M563.10,29.50v4.00M578.80,225.50v-2.30M578.80,29.50v2.30M594.50,225.50v-2.30M594.50,29.50v2.30M610.20,225.50v-2.30M610.20,29.50v2.30M625.90,225.50v-4.00M625.90,29.50v4.00M641.60,225.50v-2.30M641.60,29.50v2.30M657.30,225.50v-2.30M657.30,29.50v2.30M673.00,225.50v-2.30M673.00,29.50v2.30M688.70,225.50v-4.00M688.70,29.50v4.00M704.40,225.50v-2.30M704.40,29.50v2.30M720.10,225.50v-2.30M720.10,29.50v2.30M735.80,225.50v-2.30M735.80,29.50v2.30M751.50,225.50v-4.00M751.50,29.50v4.00M430.80,219.40h4.00M758.30,219.40h-4.00M430.80,209.98h2.30M758.30,209.98h-2.30M430.80,200.56h2.30M758.30,200.56h-2.30M430.80,191.14h2.30M758.30,191.14h-2.30M430.80,181.72h4.00M758.30,181.72h-4.00M430.80,172.30h2.30M758.30,172.30h-2.30M430.80,162.88h2.30M758.30,162.88h-2.30M430.80,153.46h2.30M758.30,153.46h-2.30M430.80,144.04h4.00M758.30,144.04h-4.00M430.80,134.62h2.30M758.30,134.62h-2.30M430.80,125.20h2.30M758.30,125.20h-2.30M430.80,115.78h2.30M758.30,115.78h-2.30M430.80,106.36h4.00M758.30,106.36h-4.00M430.80,96.94h2.30M758.30,96.94h-2.30M430.80,87.52h2.30M758.30,87.52h-2.30M430.80,78.10h2.30M758.30,78.10h-2.30M430.80,68.68h4.00M758.30,68.68h-4.00M430.80,59.26h2.30M758.30,59.26h-2.30M430.80,49.84h2.30M758.30,49.84h-2.30M430.80,40.42h2.30M758.30,40.42h-2.30M430.80,31.00h4.00M758.30,31.00h-4.00" stroke="#333" stroke-width="1" fill="none"/>
<rect x="430.80" y="29.50" width="327.50" height="196.00" fill="none" stroke="#3a3a3a" stroke-width="1.3"/>
<path d="M62.26,344.14L63.09,344.33L63.92,344.52L64.76,344.72L65.59,344.91L66.43,345.11L67.27,345.30L68.11,345.49L68.95,345.69L69.79,345.88L70.63,346.08L71.48,346.27L72.32,346.47L73.17,346.66L74.02,346.86L74.87,347.06L75.72,347.25L76.57,347.45L77.42,347.65L78.27,347.85L79.12,348.05L79.98,348.25L80.83,348.45L81.68,348.66L82.54,348.86L83.39,349.07L84.25,349.27L85.11,349.48L85.96,349.69L86.82,349.90L87.68,350.11L88.53,350.32L89.39,350.53L90.25,350.75L91.11,350.96L91.97,351.18L92.82,351.40L93.68,351.62L94.54,351.84L95.40,352.06L96.26,352.29L97.11,352.52L97.97,352.74L98.83,352.97L99.68,353.21L100.54,353.44L101.40,353.68L102.25,353.91L103.11,354.15L103.96,354.40L104.82,354.64L105.67,354.89L106.52,355.14L107.38,355.39L108.23,355.64L109.08,355.89L109.93,356.15L110.78,356.41L111.63,356.68L112.47,356.94L113.32,357.21L114.17,357.48L115.01,357.75L115.85,358.03L116.69,358.31L117.54,358.59L118.37,358.87L119.21,359.16L120.05,359.45L120.89,359.74L121.72,360.04L122.55,360.33L123.38,360.64L124.21,360.94L125.04,361.25L125.87,361.56L126.69,361.88L127.52,362.19L128.34,362.51L129.16,362.84L129.98,363.17L130.79,363.50L131.61,363.83L132.42,364.17L133.23,364.52L134.04,364.86L134.84,365.21L135.65,365.57L136.45,365.92L137.25,366.29L138.04,366.65L138.84,367.02L139.63,367.39L140.42,367.77L141.21,368.15L142.00,368.54L142.78,368.93L143.56,369.32L144.34,369.72L145.11,370.12L145.88,370.53L146.65,370.94L147.42,371.35L148.19,371.77L148.95,372.20L149.71,372.63L150.46,373.06L151.21,373.50L151.96,373.94L152.71,374.39L153.45,374.84L154.19,375.30L154.93,375.76L155.66,376.23L156.39,376.70L157.12,377.18L157.85,377.66L158.57,378.15L159.28,378.64L160.00,379.14L160.71,379.64L161.42,380.15L162.12,380.66L162.82,381.18L163.52,381.70L164.22,382.22L164.91,382.75L165.60,383.28L166.29,383.82L166.97,384.36L167.65,384.91L168.33,385.46L169.01,386.01L169.69,386.57L170.36,387.13L171.03,387.69L171.70,388.26L172.36,388.83L173.02,389.40L173.69,389.98L174.34,390.55L175.00,391.14L175.66,391.72L176.31,392.31L176.96,392.90L177.61,393.49L178.26,394.09L178.91,394.69L179.55,395.29L180.19,395.89L180.83,396.49L181.48,397.10L182.11,397.71L182.75,398.32L183.39,398.93L184.02,399.54L184.66,400.16L185.29,400.77L185.92,401.39L186.55,402.01L187.18,402.63L187.81,403.25L188.44,403.87L189.07,404.50L189.69,405.12L190.32,405.75L190.95,406.37L191.57,407.00L192.20,407.63L192.82,408.25L193.44,408.88L194.07,409.51L194.69,410.14L195.31,410.76L195.94,411.39L196.56,412.02L197.18,412.65L197.81,413.27L198.43,413.90L199.05,414.53L199.68,415.15L200.30,415.78L200.92,416.40L201.55,417.03L202.18,417.65L202.80,418.27L203.43,418.89L204.06,419.52L204.68,420.14L205.31,420.75L205.94,421.37L206.57,421.99L207.21,422.60L207.84,423.21L208.47,423.83L209.11,424.44L209.75,425.05L210.39,425.65L211.03,426.26L211.67,426.86L212.31,427.46L212.95,428.06L213.60,428.66L214.25,429.26L214.90,429.85L215.55,430.44L216.20,431.03L216.86,431.62L217.52,432.20L218.18,432.78L218.84,433.36L219.51,433.94L220.17,434.51L220.84,435.08L221.51,435.65L222.19,436.21L222.87,436.77L223.55,437.33L224.23,437.88L224.91,438.44L225.60,438.98L226.29,439.53L226.98,440.07L227.68,440.61L228.37,441.14L229.07,441.67L229.78,442.20L230.48,442.72L231.19,443.24L231.90,443.75L232.62,444.26L233.33,444.77L234.05,445.27L234.77,445.76L235.50,446.26L236.22,446.75L236.95,447.23L237.69,447.71L238.42,448.19L239.16,448.66L239.90,449.12L240.64,449.58L241.39,450.04L242.14,450.49L242.89,450.94L243.64,451.38L244.40,451.82L245.16,452.25L245.92,452.67L246.69,453.09L247.45,453.51L248.22,453.92L249.00,454.33L249.77,454.72L250.55,455.12L251.33,455.51L252.12,455.89L252.90,456.27L253.69,456.64L254.48,457.00L255.28,457.36L256.08,457.71L256.88,458.06L257.68,458.40L258.49,458.74L259.29,459.07L260.11,459.39L260.92,459.71L261.74,460.02L262.55,460.32L263.38,460.62L264.20,460.91L265.03,461.20L265.85,461.48L266.69,461.76L267.52,462.03L268.35,462.29L269.19,462.55L270.03,462.81L270.87,463.06L271.71,463.30L272.56,463.54L273.41,463.78L274.26,464.01L275.11,464.24L275.96,464.46L276.81,464.67L277.67,464.89L278.52,465.09L279.38,465.30L280.24,465.50L281.10,465.70L281.96,465.89L282.82,466.08L283.69,466.26L284.55,466.44L285.42,466.62L286.29,466.79L287.15,466.96L288.02,467.13L288.89,467.29L289.76,467.46L290.63,467.61L291.51,467.77L292.38,467.92L293.25,468.07L294.12,468.22L295.00,468.36L295.87,468.50L296.75,468.64L297.62,468.78L298.49,468.91L299.37,469.04L300.24,469.17L301.12,469.30L301.99,469.42L302.87,469.55L303.74,469.67L304.62,469.79L305.50,469.91L306.37,470.02L307.25,470.13L308.12,470.24L309.00,470.35L309.88,470.46L310.75,470.57L311.63,470.67L312.51,470.77L313.38,470.87L314.26,470.97L315.14,471.06L316.01,471.16L316.89,471.25L317.77,471.34L318.64,471.43L319.52,471.52L320.40,471.61L321.28,471.69L322.15,471.77L323.03,471.85L323.91,471.93L324.79,472.01L325.66,472.09L326.54,472.17L327.42,472.24L328.30,472.31L329.18,472.38L330.05,472.45L330.93,472.52L331.81,472.59L332.69,472.66L333.56,472.72L334.44,472.78L335.32,472.85L336.20,472.91L337.08,472.97L337.95,473.03L338.83,473.09L339.71,473.14L340.59,473.20L341.47,473.25L342.34,473.31L343.22,473.36L344.10,473.41L344.98,473.46L345.86,473.52L346.73,473.57L347.61,473.61L348.49,473.66L349.37,473.71L350.24,473.76L351.12,473.80L352.00,473.85L352.88,473.89L353.75,473.94L354.63,473.98L355.51,474.02L356.39,474.06L357.26,474.11L358.14,474.15L359.02,474.19L359.89,474.23L360.77,474.27L361.65,474.31L362.52,474.35L363.40,474.38L364.28,474.42L365.15,474.46L366.03,474.50L366.91,474.54L367.78,474.57L368.66,474.61L369.53,474.65L370.41,474.68L371.28,474.72L372.16,474.76L373.03,474.79L373.91,474.83L374.78,474.87L375.66,474.90" fill="none" stroke="#0000ff" stroke-width="2" stroke-linejoin="round" stroke-linecap="butt"/>
<path d="M61.97,426.32L62.63,425.69L63.29,425.06L63.95,424.44L64.61,423.83L65.28,423.23L65.95,422.63L66.62,422.03L67.30,421.44L67.98,420.86L68.66,420.29L69.35,419.72L70.04,419.15L70.73,418.59L71.42,418.04L72.12,417.50L72.82,416.95L73.52,416.42L74.23,415.89L74.94,415.37L75.65,414.85L76.36,414.34L77.08,413.83L77.79,413.33L78.52,412.84L79.24,412.35L79.97,411.86L80.70,411.38L81.43,410.91L82.16,410.44L82.90,409.98L83.64,409.52L84.38,409.07L85.12,408.63L85.87,408.19L86.62,407.75L87.37,407.32L88.12,406.90L88.88,406.48L89.64,406.06L90.40,405.65L91.16,405.25L91.93,404.85L92.69,404.46L93.46,404.07L94.23,403.69L95.01,403.31L95.78,402.93L96.56,402.57L97.34,402.20L98.12,401.84L98.91,401.49L99.70,401.14L100.48,400.80L101.27,400.46L102.07,400.12L102.86,399.79L103.66,399.47L104.46,399.15L105.26,398.83L106.06,398.52L106.86,398.22L107.67,397.92L108.47,397.62L109.28,397.33L110.09,397.04L110.91,396.75L111.72,396.48L112.54,396.20L113.35,395.93L114.17,395.67L114.99,395.40L115.82,395.15L116.64,394.90L117.47,394.65L118.29,394.40L119.12,394.16L119.95,393.93L120.78,393.70L121.62,393.47L122.45,393.25L123.29,393.03L124.13,392.81L124.96,392.60L125.80,392.40L126.65,392.19L127.49,391.99L128.33,391.80L129.18,391.61L130.02,391.42L130.87,391.24L131.72,391.06L132.57,390.88L133.42,390.71L134.27,390.54L135.13,390.38L135.98,390.22L136.84,390.06L137.69,389.91L138.55,389.76L139.41,389.62L140.27,389.47L141.13,389.34L141.99,389.20L142.86,389.07L143.72,388.94L144.58,388.82L145.45,388.70L146.32,388.58L147.18,388.46L148.05,388.35L148.92,388.25L149.79,388.14L150.66,388.04L151.53,387.94L152.40,387.85L153.27,387.76L154.14,387.67L155.02,387.58L155.89,387.50L156.76,387.42L157.64,387.35L158.51,387.27L159.39,387.20L160.27,387.14L161.14,387.07L162.02,387.01L162.90,386.96L163.78,386.90L164.66,386.85L165.53,386.80L166.41,386.76L167.29,386.72L168.17,386.68L169.05,386.64L169.93,386.61L170.81,386.59L171.69,386.56L172.57,386.54L173.45,386.52L174.33,386.51L175.21,386.50L176.09,386.49L176.97,386.49L177.85,386.49L178.73,386.49L179.61,386.50L180.49,386.51L181.37,386.53L182.25,386.55L183.12,386.57L184.00,386.60L184.88,386.63L185.76,386.66L186.63,386.70L187.51,386.74L188.38,386.79L189.26,386.84L190.13,386.90L191.01,386.96L191.88,387.02L192.75,387.09L193.62,387.16L194.50,387.24L195.37,387.32L196.23,387.40L197.10,387.49L197.97,387.59L198.84,387.69L199.70,387.79L200.57,387.90L201.43,388.01L202.30,388.12L203.16,388.25L204.02,388.37L204.88,388.50L205.74,388.64L206.59,388.78L207.45,388.92L208.31,389.07L209.16,389.23L210.01,389.39L210.86,389.55L211.71,389.72L212.56,389.90L213.41,390.07L214.25,390.26L215.10,390.45L215.94,390.64L216.78,390.84L217.62,391.05L218.46,391.26L219.29,391.47L220.13,391.70L220.96,391.92L221.79,392.15L222.62,392.39L223.45,392.63L224.27,392.88L225.10,393.13L225.92,393.39L226.74,393.66L227.56,393.93L228.37,394.20L229.19,394.49L230.00,394.77L230.81,395.07L231.62,395.36L232.42,395.67L233.22,395.98L234.03,396.29L234.82,396.62L235.62,396.94L236.42,397.28L237.21,397.62L238.00,397.96L238.78,398.32L239.57,398.67L240.35,399.04L241.13,399.41L241.91,399.78L242.68,400.16L243.46,400.55L244.23,400.94L244.99,401.34L245.76,401.75L246.52,402.16L247.28,402.57L248.04,402.99L248.79,403.41L249.55,403.85L250.30,404.28L251.04,404.72L251.79,405.17L252.53,405.62L253.27,406.07L254.01,406.53L254.74,407.00L255.47,407.47L256.20,407.94L256.93,408.42L257.65,408.91L258.37,409.40L259.09,409.89L259.80,410.39L260.52,410.89L261.23,411.39L261.93,411.90L262.64,412.42L263.34,412.94L264.04,413.46L264.73,413.99L265.43,414.52L266.12,415.05L266.80,415.59L267.49,416.13L268.17,416.68L268.85,417.23L269.53,417.78L270.20,418.34L270.87,418.89L271.54,419.46L272.21,420.02L272.87,420.59L273.53,421.16L274.19,421.73L274.85,422.31L275.51,422.88L276.16,423.46L276.82,424.04L277.47,424.62L278.12,425.21L278.77,425.79L279.42,426.38L280.07,426.96L280.72,427.55L281.37,428.14L282.01,428.72L282.66,429.31L283.31,429.90L283.95,430.49L284.60,431.08L285.25,431.67L285.89,432.25L286.54,432.84L287.19,433.42L287.84,434.01L288.49,434.59L289.14,435.17L289.79,435.75L290.44,436.33L291.09,436.91L291.75,437.48L292.40,438.06L293.06,438.63L293.72,439.20L294.38,439.76L295.04,440.32L295.71,440.88L296.37,441.44L297.04,441.99L297.71,442.54L298.39,443.09L299.07,443.63L299.74,444.17L300.43,444.70L301.11,445.24L301.80,445.76L302.49,446.29L303.18,446.81L303.88,447.32L304.57,447.83L305.27,448.34L305.98,448.84L306.68,449.34L307.39,449.83L308.10,450.32L308.81,450.81L309.53,451.29L310.25,451.77L310.97,452.24L311.69,452.71L312.42,453.17L313.15,453.63L313.88,454.08L314.61,454.53L315.35,454.98L316.09,455.42L316.83,455.85L317.58,456.28L318.32,456.71L319.07,457.12L319.83,457.54L320.58,457.95L321.34,458.35L322.10,458.75L322.86,459.15L323.63,459.54L324.40,459.92L325.17,460.30L325.94,460.67L326.72,461.04L327.50,461.40L328.28,461.76L329.07,462.11L329.85,462.46L330.64,462.80L331.44,463.13L332.23,463.46L333.03,463.78L333.83,464.10L334.63,464.41L335.44,464.71L336.25,465.01L337.06,465.31L337.88,465.59L338.69,465.87L339.51,466.15L340.33,466.42L341.16,466.68L341.99,466.94L342.82,467.19L343.65,467.43L344.49,467.67L345.32,467.90L346.17,468.12L347.01,468.34L347.86,468.55L348.70,468.75L349.56,468.95L350.41,469.15L351.26,469.33L352.12,469.51L352.98,469.69L353.84,469.85L354.71,470.02L355.57,470.17L356.44,470.32L357.31,470.46L358.18,470.60L359.06,470.73L359.93,470.86L360.81,470.98L361.69,471.09L362.57,471.20L363.45,471.30L364.33,471.40L365.22,471.49L366.10,471.58L366.99,471.66L367.88,471.73L368.76,471.80L369.65,471.86L370.54,471.92L371.44,471.97L372.33,472.01L373.22,472.05L374.12,472.09L375.01,472.12L375.91,472.14" fill="none" stroke="#00ff00" stroke-width="2" stroke-linejoin="round" stroke-linecap="butt"/>
<path d="M61.82,483.43L62.65,483.40L63.48,483.38L64.31,483.35L65.13,483.32L65.97,483.28L66.80,483.25L67.63,483.22L68.46,483.19L69.29,483.15L70.13,483.12L70.96,483.08L71.80,483.05L72.63,483.01L73.47,482.97L74.30,482.93L75.14,482.90L75.98,482.85L76.82,482.81L77.65,482.77L78.49,482.73L79.33,482.68L80.17,482.64L81.01,482.59L81.85,482.54L82.69,482.49L83.53,482.44L84.37,482.39L85.22,482.34L86.06,482.29L86.90,482.23L87.74,482.17L88.58,482.12L89.43,482.06L90.27,482.00L91.11,481.94L91.95,481.87L92.80,481.81L93.64,481.74L94.48,481.67L95.33,481.61L96.17,481.54L97.01,481.46L97.85,481.39L98.70,481.31L99.54,481.24L100.38,481.16L101.22,481.08L102.07,481.00L102.91,480.91L103.75,480.83L104.59,480.74L105.43,480.65L106.28,480.56L107.12,480.47L107.96,480.37L108.80,480.28L109.64,480.18L110.48,480.08L111.32,479.98L112.16,479.87L113.00,479.76L113.83,479.66L114.67,479.55L115.51,479.43L116.35,479.32L117.18,479.20L118.02,479.08L118.85,478.96L119.69,478.84L120.52,478.71L121.36,478.58L122.19,478.45L123.02,478.32L123.85,478.19L124.68,478.05L125.51,477.91L126.34,477.77L127.17,477.62L128.00,477.48L128.83,477.33L129.65,477.17L130.48,477.02L131.31,476.86L132.13,476.70L132.95,476.54L133.77,476.37L134.60,476.21L135.42,476.04L136.24,475.86L137.05,475.69L137.87,475.51L138.69,475.33L139.50,475.14L140.32,474.96L141.13,474.77L141.94,474.57L142.75,474.38L143.56,474.18L144.37,473.98L145.18,473.77L145.99,473.56L146.79,473.35L147.60,473.14L148.40,472.92L149.20,472.70L150.00,472.48L150.80,472.25L151.60,472.02L152.39,471.79L153.19,471.56L153.98,471.32L154.77,471.07L155.56,470.83L156.35,470.58L157.14,470.33L157.93,470.07L158.71,469.81L159.49,469.55L160.28,469.28L161.06,469.01L161.83,468.74L162.61,468.47L163.39,468.19L164.16,467.91L164.94,467.62L165.71,467.34L166.48,467.05L167.25,466.75L168.02,466.46L168.79,466.16L169.56,465.86L170.32,465.55L171.09,465.24L171.85,464.93L172.61,464.62L173.37,464.31L174.13,463.99L174.89,463.67L175.65,463.35L176.41,463.02L177.17,462.69L177.92,462.36L178.68,462.03L179.43,461.70L180.18,461.36L180.93,461.02L181.69,460.68L182.44,460.33L183.19,459.99L183.94,459.64L184.68,459.29L185.43,458.94L186.18,458.58L186.93,458.23L187.67,457.87L188.42,457.51L189.16,457.15L189.91,456.78L190.65,456.42L191.39,456.05L192.14,455.68L192.88,455.31L193.62,454.94L194.36,454.57L195.10,454.19L195.84,453.81L196.58,453.43L197.32,453.05L198.06,452.67L198.80,452.29L199.54,451.91L200.28,451.52L201.02,451.13L201.76,450.75L202.49,450.36L203.23,449.97L203.97,449.57L204.71,449.18L205.44,448.79L206.18,448.39L206.92,448.00L207.66,447.60L208.39,447.20L209.13,446.80L209.87,446.40L210.61,446.00L211.34,445.60L212.08,445.20L212.82,444.80L213.56,444.39L214.30,443.99L215.03,443.59L215.77,443.18L216.51,442.77L217.25,442.37L217.99,441.96L218.73,441.55L219.47,441.15L220.21,440.74L220.95,440.33L221.69,439.92L222.43,439.51L223.17,439.10L223.91,438.70L224.66,438.29L225.40,437.88L226.14,437.47L226.89,437.06L227.63,436.65L228.38,436.24L229.12,435.83L229.87,435.42L230.61,435.01L231.36,434.60L232.11,434.20L232.86,433.79L233.61,433.38L234.36,432.98L235.10,432.57L235.86,432.16L236.61,431.76L237.36,431.36L238.11,430.95L238.86,430.55L239.61,430.15L240.37,429.75L241.12,429.35L241.88,428.96L242.63,428.56L243.39,428.16L244.14,427.77L244.90,427.38L245.66,426.99L246.41,426.60L247.17,426.21L247.93,425.82L248.69,425.44L249.45,425.06L250.21,424.67L250.97,424.29L251.74,423.92L252.50,423.54L253.26,423.17L254.03,422.80L254.79,422.43L255.56,422.06L256.32,421.69L257.09,421.33L257.85,420.97L258.62,420.61L259.39,420.25L260.16,419.90L260.93,419.55L261.70,419.20L262.47,418.86L263.24,418.51L264.01,418.17L264.78,417.84L265.56,417.50L266.33,417.17L267.10,416.84L267.88,416.52L268.66,416.19L269.43,415.87L270.21,415.56L270.99,415.25L271.77,414.94L272.54,414.63L273.32,414.33L274.11,414.03L274.89,413.73L275.67,413.44L276.45,413.15L277.23,412.87L278.02,412.59L278.80,412.31L279.59,412.04L280.37,411.77L281.16,411.50L281.95,411.24L282.74,410.99L283.53,410.73L284.31,410.49L285.11,410.24L285.90,410.00L286.69,409.77L287.48,409.54L288.27,409.31L289.07,409.09L289.86,408.87L290.66,408.66L291.45,408.45L292.25,408.25L293.05,408.05L293.85,407.86L294.65,407.67L295.45,407.48L296.25,407.31L297.05,407.13L297.85,406.97L298.66,406.80L299.46,406.65L300.26,406.49L301.07,406.35L301.88,406.21L302.68,406.07L303.49,405.94L304.30,405.82L305.11,405.70L305.92,405.59L306.73,405.48L307.54,405.38L308.35,405.28L309.17,405.20L309.98,405.11L310.80,405.04L311.61,404.96L312.43,404.90L313.25,404.84L314.07,404.79L314.89,404.74L315.71,404.71L316.53,404.67L317.35,404.65L318.17,404.63L318.99,404.61L319.81,404.61L320.64,404.61L321.46,404.61L322.28,404.63L323.11,404.65L323.93,404.68L324.75,404.71L325.58,404.75L326.40,404.80L327.23,404.85L328.05,404.92L328.87,404.99L329.69,405.06L330.52,405.15L331.34,405.24L332.16,405.34L332.98,405.44L333.80,405.55L334.62,405.68L335.44,405.80L336.26,405.94L337.08,406.08L337.90,406.23L338.71,406.39L339.53,406.56L340.34,406.73L341.16,406.91L341.97,407.10L342.78,407.30L343.59,407.50L344.40,407.72L345.20,407.94L346.01,408.17L346.81,408.40L347.61,408.65L348.42,408.90L349.21,409.16L350.01,409.43L350.81,409.71L351.60,410.00L352.39,410.29L353.18,410.60L353.97,410.91L354.76,411.23L355.54,411.56L356.32,411.90L357.10,412.24L357.88,412.60L358.65,412.96L359.43,413.33L360.20,413.71L360.96,414.10L361.73,414.50L362.49,414.91L363.25,415.33L364.01,415.76L364.76,416.19L365.51,416.64L366.26,417.09L367.00,417.55L367.75,418.02L368.49,418.51L369.22,419.00L369.95,419.50L370.68,420.01L371.41,420.53L372.13,421.05L372.85,421.59L373.57,422.14L374.28,422.70L374.99,423.27L375.69,423.84L376.39,424.43" fill="none" stroke="#ff0000" stroke-width="2" stroke-linejoin="round" stroke-linecap="butt"/>
<path d="M61.91,485.18L62.71,485.16L63.52,485.15L64.32,485.14L65.13,485.12L65.93,485.11L66.73,485.09L67.54,485.08L68.34,485.07L69.15,485.06L69.95,485.04L70.75,485.03L71.56,485.02L72.36,485.01L73.17,485.00L73.97,484.99L74.78,484.98L75.58,484.97L76.38,484.96L77.19,484.95L77.99,484.94L78.80,484.93L79.60,484.92L80.40,484.91L81.21,484.90L82.01,484.89L82.82,484.88L83.62,484.87L84.43,484.87L85.23,484.86L86.03,484.85L86.84,484.84L87.64,484.84L88.45,484.83L89.25,484.82L90.06,484.82L90.86,484.81L91.66,484.80L92.47,484.80L93.27,484.79L94.08,484.79L94.88,484.78L95.69,484.77L96.49,484.77L97.29,484.76L98.10,484.76L98.90,484.75L99.71,484.75L100.51,484.74L101.32,484.74L102.12,484.74L102.92,484.73L103.73,484.73L104.53,484.72L105.34,484.72L106.14,484.72L106.95,484.71L107.75,484.71L108.55,484.70L109.36,484.70L110.16,484.70L110.97,484.69L111.77,484.69L112.58,484.69L113.38,484.68L114.19,484.68L114.99,484.68L115.79,484.67L116.60,484.67L117.40,484.67L118.21,484.67L119.01,484.66L119.82,484.66L120.62,484.66L121.43,484.65L122.23,484.65L123.03,484.65L123.84,484.65L124.64,484.64L125.45,484.64L126.25,484.64L127.06,484.63L127.86,484.63L128.67,484.63L129.47,484.63L130.28,484.62L131.08,484.62L131.88,484.62L132.69,484.62L133.49,484.61L134.30,484.61L135.10,484.61L135.91,484.60L136.71,484.60L137.52,484.60L138.32,484.59L139.13,484.59L139.93,484.59L140.73,484.58L141.54,484.58L142.34,484.58L143.15,484.57L143.95,484.57L144.76,484.57L145.56,484.56L146.37,484.56L147.17,484.55L147.98,484.55L148.78,484.55L149.58,484.54L150.39,484.54L151.19,484.53L152.00,484.53L152.80,484.52L153.61,484.52L154.41,484.51L155.22,484.51L156.02,484.50L156.83,484.50L157.63,484.49L158.43,484.48L159.24,484.48L160.04,484.47L160.85,484.46L161.65,484.46L162.46,484.45L163.26,484.44L164.07,484.44L164.87,484.43L165.68,484.42L166.48,484.41L167.28,484.41L168.09,484.40L168.89,484.39L169.70,484.38L170.50,484.37L171.31,484.36L172.11,484.35L172.92,484.35L173.72,484.34L174.53,484.33L175.33,484.32L176.14,484.31L176.94,484.29L177.74,484.28L178.55,484.27L179.35,484.26L180.16,484.25L180.96,484.24L181.77,484.23L182.57,484.21L183.38,484.20L184.18,484.19L184.99,484.17L185.79,484.16L186.59,484.15L187.40,484.13L188.20,484.12L189.01,484.10L189.81,484.09L190.62,484.07L191.42,484.06L192.23,484.04L193.03,484.02L193.84,484.01L194.64,483.99L195.44,483.97L196.25,483.96L197.05,483.94L197.86,483.92L198.66,483.90L199.47,483.88L200.27,483.86L201.08,483.84L201.88,483.82L202.69,483.80L203.49,483.78L204.29,483.76L205.10,483.74L205.90,483.71L206.71,483.69L207.51,483.67L208.32,483.65L209.12,483.62L209.93,483.60L210.73,483.57L211.53,483.55L212.34,483.52L213.14,483.50L213.95,483.47L214.75,483.44L215.56,483.42L216.36,483.39L217.17,483.36L217.97,483.33L218.77,483.30L219.58,483.28L220.38,483.25L221.19,483.22L221.99,483.18L222.80,483.15L223.60,483.12L224.41,483.09L225.21,483.06L226.01,483.02L226.82,482.99L227.62,482.96L228.43,482.92L229.23,482.89L230.04,482.85L230.84,482.82L231.64,482.78L232.45,482.74L233.25,482.70L234.06,482.67L234.86,482.63L235.67,482.59L236.47,482.55L237.28,482.51L238.08,482.47L238.88,482.43L239.69,482.38L240.49,482.34L241.30,482.30L242.10,482.25L242.91,482.21L243.71,482.17L244.51,482.12L245.32,482.07L246.12,482.03L246.93,481.98L247.73,481.93L248.54,481.89L249.34,481.84L250.14,481.79L250.95,481.74L251.75,481.69L252.56,481.63L253.36,481.58L254.16,481.53L254.97,481.48L255.77,481.42L256.58,481.37L257.38,481.31L258.19,481.26L258.99,481.20L259.79,481.14L260.60,481.09L261.40,481.03L262.21,480.97L263.01,480.91L263.81,480.85L264.62,480.79L265.42,480.72L266.22,480.66L267.03,480.59L267.83,480.53L268.63,480.46L269.44,480.39L270.24,480.32L271.04,480.24L271.84,480.17L272.64,480.09L273.45,480.01L274.25,479.93L275.05,479.85L275.85,479.76L276.65,479.67L277.44,479.58L278.24,479.49L279.04,479.39L279.84,479.30L280.64,479.20L281.43,479.09L282.23,478.99L283.02,478.88L283.82,478.77L284.61,478.65L285.40,478.53L286.20,478.41L286.99,478.28L287.78,478.16L288.57,478.02L289.36,477.89L290.15,477.75L290.93,477.61L291.72,477.46L292.51,477.31L293.29,477.16L294.08,477.01L294.86,476.85L295.64,476.68L296.43,476.52L297.21,476.35L297.99,476.17L298.77,475.99L299.54,475.81L300.32,475.63L301.10,475.44L301.87,475.25L302.65,475.05L303.42,474.85L304.19,474.65L304.96,474.44L305.73,474.23L306.50,474.01L307.27,473.79L308.04,473.57L308.80,473.34L309.57,473.11L310.33,472.87L311.10,472.64L311.86,472.39L312.62,472.14L313.38,471.89L314.13,471.64L314.89,471.38L315.65,471.11L316.40,470.85L317.15,470.57L317.91,470.30L318.66,470.02L319.41,469.74L320.16,469.45L320.91,469.16L321.65,468.87L322.40,468.58L323.14,468.28L323.89,467.97L324.63,467.67L325.38,467.36L326.12,467.05L326.86,466.74L327.60,466.42L328.34,466.10L329.08,465.78L329.81,465.46L330.55,465.13L331.29,464.80L332.02,464.47L332.76,464.14L333.49,463.81L334.23,463.47L334.96,463.13L335.69,462.79L336.42,462.45L337.15,462.11L337.89,461.76L338.62,461.41L339.35,461.06L340.07,460.71L340.80,460.36L341.53,460.01L342.26,459.66L342.99,459.30L343.71,458.95L344.44,458.59L345.17,458.23L345.89,457.88L346.62,457.52L347.34,457.16L348.07,456.80L348.79,456.44L349.52,456.08L350.24,455.72L350.97,455.36L351.69,455.00L352.42,454.64L353.14,454.27L353.86,453.91L354.59,453.55L355.31,453.19L356.03,452.83L356.76,452.47L357.48,452.11L358.20,451.76L358.93,451.40L359.65,451.04L360.37,450.68L361.10,450.33L361.82,449.97L362.55,449.62L363.27,449.27L363.99,448.92L364.72,448.57L365.44,448.22L366.17,447.87L366.89,447.53L367.62,447.18L368.34,446.84L369.07,446.50L369.79,446.16L370.52,445.82L371.25,445.49L371.97,445.16L372.70,444.82L373.43,444.50L374.16,444.17L374.89,443.85L375.61,443.52" fill="none" stroke="#000000" stroke-width="2" stroke-linejoin="round" stroke-linecap="butt"/>
<path d="M61.60,488.30v-4.00M61.60,291.80v4.00M77.30,488.30v-2.30M77.30,291.80v2.30M93.00,488.30v-2.30M93.00,291.80v2.30M108.70,488.30v-2.30M108.70,291.80v2.30M124.40,488.30v-4.00M124.40,291.80v4.00M140.10,488.30v-2.30M140.10,291.80v2.30M155.80,488.30v-2.30M155.80,291.80v2.30M171.50,488.30v-2.30M171.50,291.80v2.30M187.20,488.30v-4.00M187.20,291.80v4.00M202.90,488.30v-2.30M202.90,291.80v2.30M218.60,488.30v-2.30M218.60,291.80v2.30M234.30,488.30v-2.30M234.30,291.80v2.30M250.00,488.30v-4.00M250.00,291.80v4.00M265.70,488.30v-2.30M265.70,291.80v2.30M281.40,488.30v-2.30M281.40,291.80v2.30M297.10,488.30v-2.30M297.10,291.80v2.30M312.80,488.30v-4.00M312.80,291.80v4.00M328.50,488.30v-2.30M328.50,291.80v2.30M344.20,488.30v-2.30M344.20,291.80v2.30M359.90,488.30v-2.30M359.90,291.80v2.30M375.60,488.30v-4.00M375.60,291.80v4.00M55.40,485.50h4.00M382.30,485.50h-4.00M55.40,479.06h2.30M382.30,479.06h-2.30M55.40,472.62h2.30M382.30,472.62h-2.30M55.40,466.18h2.30M382.30,466.18h-2.30M55.40,459.74h2.30M382.30,459.74h-2.30M55.40,453.30h4.00M382.30,453.30h-4.00M55.40,446.86h2.30M382.30,446.86h-2.30M55.40,440.42h2.30M382.30,440.42h-2.30M55.40,433.98h2.30M382.30,433.98h-2.30M55.40,427.54h2.30M382.30,427.54h-2.30M55.40,421.10h4.00M382.30,421.10h-4.00M55.40,414.66h2.30M382.30,414.66h-2.30M55.40,408.22h2.30M382.30,408.22h-2.30M55.40,401.78h2.30M382.30,401.78h-2.30M55.40,395.34h2.30M382.30,395.34h-2.30M55.40,388.90h4.00M382.30,388.90h-4.00M55.40,382.46h2.30M382.30,382.46h-2.30M55.40,376.02h2.30M382.30,376.02h-2.30M55.40,369.58h2.30M382.30,369.58h-2.30M55.40,363.14h2.30M382.30,363.14h-2.30M55.40,356.70h4.00M382.30,356.70h-4.00M55.40,350.26h2.30M382.30,350.26h-2.30M55.40,343.82h2.30M382.30,343.82h-2.30M55.40,337.38h2.30M382.30,337.38h-2.30M55.40,330.94h2.30M382.30,330.94h-2.30M55.40,324.50h4.00M382.30,324.50h-4.00M55.40,318.06h2.30M382.30,318.06h-2.30M55.40,311.62h2.30M382.30,311.62h-2.30M55.40,305.18h2.30M382.30,305.18h-2.30M55.40,298.74h2.30M382.30,298.74h-2.30M55.40,292.30h4.00M382.30,292.30h-4.00" stroke="#333" stroke-width="1" fill="none"/>
<rect x="55.40" y="291.80" width="326.90" height="196.50" fill="none" stroke="#3a3a3a" stroke-width="1.3"/>
<path d="M433.86,316.01L434.58,316.63L435.29,317.26L436.01,317.89L436.71,318.52L437.42,319.15L438.12,319.79L438.82,320.43L439.51,321.07L440.21,321.72L440.90,322.37L441.58,323.02L442.27,323.67L442.95,324.32L443.63,324.98L444.31,325.64L444.98,326.31L445.65,326.97L446.32,327.64L446.99,328.31L447.66,328.98L448.32,329.65L448.98,330.33L449.64,331.01L450.29,331.69L450.94,332.37L451.60,333.05L452.25,333.74L452.89,334.43L453.54,335.12L454.18,335.81L454.82,336.50L455.46,337.20L456.10,337.90L456.74,338.60L457.37,339.30L458.00,340.00L458.63,340.70L459.26,341.41L459.89,342.12L460.52,342.82L461.14,343.53L461.76,344.25L462.39,344.96L463.01,345.67L463.63,346.39L464.24,347.10L464.86,347.82L465.48,348.54L466.09,349.26L466.70,349.98L467.31,350.70L467.93,351.43L468.54,352.15L469.14,352.88L469.75,353.60L470.36,354.33L470.97,355.06L471.57,355.79L472.18,356.52L472.78,357.25L473.38,357.98L473.99,358.71L474.59,359.44L475.19,360.18L475.79,360.91L476.39,361.64L476.99,362.38L477.59,363.11L478.19,363.85L478.79,364.59L479.39,365.32L479.99,366.06L480.59,366.80L481.19,367.53L481.78,368.27L482.38,369.01L482.98,369.74L483.58,370.48L484.18,371.22L484.78,371.96L485.37,372.69L485.97,373.43L486.57,374.17L487.17,374.91L487.77,375.64L488.37,376.38L488.97,377.12L489.57,377.85L490.17,378.59L490.78,379.33L491.38,380.06L491.98,380.80L492.59,381.53L493.19,382.26L493.80,383.00L494.40,383.73L495.01,384.46L495.62,385.19L496.23,385.93L496.83,386.66L497.45,387.39L498.06,388.11L498.67,388.84L499.28,389.57L499.90,390.29L500.51,391.02L501.13,391.74L501.75,392.47L502.37,393.19L502.99,393.91L503.61,394.63L504.24,395.35L504.86,396.06L505.49,396.78L506.12,397.50L506.75,398.21L507.38,398.92L508.02,399.63L508.65,400.34L509.29,401.05L509.93,401.76L510.57,402.46L511.21,403.16L511.85,403.87L512.50,404.57L513.15,405.26L513.80,405.96L514.45,406.66L515.11,407.35L515.76,408.04L516.42,408.73L517.08,409.42L517.75,410.10L518.41,410.78L519.08,411.46L519.75,412.14L520.42,412.82L521.09,413.49L521.77,414.17L522.44,414.84L523.12,415.50L523.80,416.17L524.49,416.83L525.17,417.49L525.86,418.15L526.55,418.80L527.24,419.45L527.94,420.10L528.64,420.75L529.33,421.39L530.04,422.03L530.74,422.67L531.45,423.31L532.15,423.94L532.86,424.57L533.58,425.19L534.29,425.81L535.01,426.43L535.73,427.05L536.45,427.66L537.17,428.27L537.90,428.88L538.63,429.48L539.36,430.08L540.09,430.67L540.83,431.27L541.57,431.85L542.31,432.44L543.05,433.02L543.79,433.60L544.54,434.17L545.29,434.74L546.05,435.30L546.80,435.87L547.56,436.42L548.32,436.98L549.08,437.53L549.85,438.07L550.61,438.61L551.38,439.15L552.15,439.68L552.93,440.21L553.71,440.73L554.49,441.25L555.27,441.77L556.06,442.28L556.84,442.78L557.63,443.29L558.43,443.78L559.22,444.27L560.02,444.76L560.82,445.24L561.62,445.72L562.43,446.19L563.24,446.66L564.05,447.12L564.86,447.58L565.68,448.03L566.50,448.48L567.32,448.92L568.15,449.36L568.97,449.79L569.80,450.22L570.64,450.64L571.47,451.05L572.31,451.46L573.15,451.87L574.00,452.27L574.84,452.66L575.69,453.05L576.54,453.43L577.40,453.81L578.26,454.18L579.12,454.55L579.98,454.91L580.84,455.27L581.71,455.62L582.58,455.97L583.45,456.31L584.32,456.65L585.20,456.98L586.08,457.31L586.96,457.63L587.84,457.95L588.73,458.27L589.61,458.57L590.50,458.88L591.39,459.18L592.29,459.48L593.18,459.77L594.08,460.05L594.98,460.34L595.88,460.62L596.78,460.89L597.69,461.16L598.59,461.43L599.50,461.69L600.41,461.94L601.32,462.20L602.23,462.45L603.15,462.69L604.06,462.94L604.98,463.17L605.90,463.41L606.82,463.64L607.74,463.87L608.67,464.09L609.59,464.31L610.52,464.53L611.45,464.74L612.38,464.95L613.31,465.15L614.24,465.36L615.17,465.56L616.10,465.75L617.04,465.94L617.97,466.13L618.91,466.32L619.85,466.50L620.79,466.68L621.73,466.86L622.67,467.04L623.61,467.21L624.55,467.38L625.49,467.54L626.44,467.71L627.38,467.87L628.33,468.02L629.27,468.18L630.22,468.33L631.17,468.48L632.11,468.63L633.06,468.77L634.01,468.92L634.96,469.06L635.91,469.20L636.86,469.33L637.81,469.46L638.76,469.60L639.71,469.73L640.66,469.85L641.62,469.98L642.57,470.10L643.52,470.22L644.47,470.34L645.42,470.46L646.38,470.58L647.33,470.69L648.28,470.80L649.23,470.91L650.18,471.02L651.14,471.13L652.09,471.24L653.04,471.34L653.99,471.45L654.94,471.55L655.89,471.65L656.84,471.75L657.79,471.85L658.74,471.94L659.69,472.04L660.64,472.13L661.59,472.23L662.54,472.32L663.49,472.41L664.44,472.50L665.38,472.59L666.33,472.67L667.28,472.76L668.22,472.85L669.17,472.93L670.12,473.01L671.06,473.10L672.01,473.18L672.96,473.26L673.90,473.34L674.85,473.42L675.79,473.49L676.74,473.57L677.68,473.65L678.62,473.72L679.57,473.79L680.51,473.87L681.46,473.94L682.40,474.01L683.34,474.08L684.29,474.15L685.23,474.22L686.17,474.28L687.12,474.35L688.06,474.42L689.00,474.48L689.94,474.55L690.89,474.61L691.83,474.67L692.77,474.74L693.71,474.80L694.65,474.86L695.60,474.92L696.54,474.98L697.48,475.04L698.42,475.10L699.36,475.16L700.31,475.21L701.25,475.27L702.19,475.33L703.13,475.38L704.07,475.44L705.01,475.49L705.96,475.55L706.90,475.60L707.84,475.65L708.78,475.70L709.72,475.76L710.67,475.81L711.61,475.86L712.55,475.91L713.49,475.96L714.43,476.01L715.37,476.06L716.32,476.11L717.26,476.16L718.20,476.21L719.14,476.26L720.09,476.30L721.03,476.35L721.97,476.40L722.92,476.45L723.86,476.49L724.80,476.54L725.74,476.59L726.69,476.63L727.63,476.68L728.58,476.73L729.52,476.77L730.46,476.82L731.41,476.86L732.35,476.91L733.30,476.95L734.24,477.00L735.19,477.04L736.13,477.09L737.08,477.14L738.02,477.18L738.97,477.23L739.92,477.27L740.86,477.32L741.81,477.36L742.76,477.41L743.71,477.45L744.65,477.50L745.60,477.54L746.55,477.59L747.50,477.63L748.45,477.68L749.40,477.73L750.35,477.77L751.30,477.82L752.25,477.86" fill="none" stroke="#0000ff" stroke-width="2" stroke-linejoin="round" stroke-linecap="butt"/>
<path d="M433.99,333.20L434.81,333.54L435.62,333.88L436.44,334.22L437.26,334.57L438.08,334.91L438.89,335.25L439.71,335.59L440.53,335.94L441.34,336.28L442.16,336.62L442.97,336.97L443.79,337.31L444.61,337.65L445.42,338.00L446.24,338.34L447.05,338.69L447.87,339.03L448.68,339.38L449.50,339.72L450.31,340.07L451.13,340.41L451.94,340.76L452.76,341.11L453.57,341.45L454.38,341.80L455.20,342.15L456.01,342.50L456.82,342.84L457.64,343.19L458.45,343.54L459.26,343.89L460.08,344.24L460.89,344.59L461.70,344.94L462.51,345.29L463.32,345.64L464.14,345.99L464.95,346.35L465.76,346.70L466.57,347.05L467.38,347.40L468.19,347.76L469.00,348.11L469.81,348.47L470.62,348.82L471.43,349.18L472.24,349.53L473.05,349.89L473.86,350.24L474.67,350.60L475.48,350.96L476.28,351.32L477.09,351.67L477.90,352.03L478.71,352.39L479.51,352.75L480.32,353.11L481.13,353.47L481.93,353.83L482.74,354.19L483.55,354.56L484.35,354.92L485.16,355.28L485.96,355.65L486.77,356.01L487.57,356.37L488.37,356.74L489.18,357.11L489.98,357.47L490.78,357.84L491.59,358.21L492.39,358.57L493.19,358.94L493.99,359.31L494.80,359.68L495.60,360.05L496.40,360.42L497.20,360.79L498.00,361.17L498.80,361.54L499.60,361.91L500.40,362.29L501.20,362.66L502.00,363.04L502.79,363.41L503.59,363.79L504.39,364.17L505.19,364.54L505.98,364.92L506.78,365.30L507.58,365.68L508.37,366.06L509.17,366.44L509.96,366.82L510.76,367.21L511.55,367.59L512.35,367.97L513.14,368.36L513.93,368.74L514.73,369.13L515.52,369.52L516.31,369.90L517.10,370.29L517.89,370.68L518.69,371.07L519.48,371.46L520.27,371.85L521.06,372.24L521.84,372.64L522.63,373.03L523.42,373.42L524.21,373.82L525.00,374.21L525.79,374.61L526.57,375.01L527.36,375.41L528.14,375.80L528.93,376.20L529.72,376.60L530.50,377.01L531.28,377.41L532.07,377.81L532.85,378.21L533.63,378.62L534.42,379.02L535.20,379.43L535.98,379.84L536.76,380.25L537.54,380.65L538.32,381.06L539.10,381.48L539.88,381.89L540.66,382.30L541.44,382.71L542.22,383.13L542.99,383.54L543.77,383.96L544.55,384.37L545.32,384.79L546.10,385.21L546.87,385.63L547.65,386.05L548.42,386.47L549.19,386.90L549.97,387.32L550.74,387.74L551.51,388.17L552.28,388.59L553.05,389.02L553.82,389.45L554.59,389.88L555.36,390.31L556.13,390.74L556.90,391.17L557.67,391.61L558.43,392.04L559.20,392.48L559.96,392.91L560.73,393.35L561.50,393.79L562.26,394.23L563.02,394.67L563.79,395.11L564.55,395.55L565.31,396.00L566.07,396.44L566.83,396.89L567.59,397.33L568.35,397.78L569.11,398.23L569.87,398.68L570.63,399.13L571.39,399.58L572.14,400.04L572.90,400.49L573.66,400.95L574.41,401.40L575.17,401.86L575.92,402.32L576.67,402.78L577.43,403.24L578.18,403.70L578.93,404.17L579.68,404.63L580.43,405.10L581.18,405.56L581.93,406.03L582.68,406.50L583.42,406.97L584.17,407.44L584.92,407.92L585.66,408.39L586.41,408.87L587.15,409.34L587.90,409.82L588.64,410.30L589.38,410.78L590.13,411.26L590.87,411.74L591.61,412.23L592.35,412.71L593.09,413.20L593.83,413.69L594.56,414.17L595.30,414.66L596.04,415.16L596.77,415.65L597.51,416.14L598.24,416.63L598.98,417.13L599.71,417.63L600.45,418.12L601.18,418.62L601.91,419.12L602.65,419.61L603.38,420.11L604.11,420.61L604.84,421.11L605.57,421.61L606.31,422.11L607.04,422.61L607.77,423.12L608.50,423.62L609.23,424.12L609.96,424.62L610.69,425.12L611.42,425.62L612.15,426.12L612.89,426.62L613.62,427.12L614.35,427.62L615.08,428.12L615.81,428.62L616.54,429.12L617.27,429.62L618.01,430.12L618.74,430.61L619.47,431.11L620.20,431.60L620.94,432.10L621.67,432.59L622.41,433.08L623.14,433.58L623.88,434.07L624.61,434.56L625.35,435.05L626.08,435.53L626.82,436.02L627.56,436.50L628.30,436.99L629.04,437.47L629.78,437.95L630.52,438.43L631.26,438.90L632.00,439.38L632.74,439.85L633.49,440.32L634.23,440.79L634.98,441.26L635.73,441.73L636.47,442.19L637.22,442.65L637.97,443.11L638.72,443.57L639.47,444.03L640.23,444.48L640.98,444.93L641.73,445.38L642.49,445.83L643.25,446.27L644.01,446.71L644.77,447.15L645.53,447.58L646.29,448.02L647.05,448.45L647.82,448.87L648.58,449.30L649.35,449.72L650.12,450.14L650.89,450.55L651.66,450.96L652.44,451.37L653.21,451.78L653.99,452.18L654.77,452.58L655.55,452.97L656.33,453.36L657.12,453.75L657.90,454.14L658.69,454.52L659.48,454.90L660.27,455.27L661.06,455.64L661.85,456.00L662.65,456.37L663.45,456.72L664.25,457.08L665.05,457.43L665.86,457.77L666.66,458.11L667.47,458.45L668.28,458.78L669.09,459.11L669.91,459.43L670.72,459.75L671.54,460.07L672.37,460.38L673.19,460.68L674.01,460.98L674.84,461.28L675.67,461.57L676.50,461.86L677.34,462.14L678.18,462.42L679.01,462.69L679.85,462.96L680.70,463.23L681.54,463.49L682.39,463.75L683.23,464.00L684.08,464.25L684.93,464.49L685.79,464.73L686.64,464.97L687.50,465.20L688.35,465.43L689.21,465.66L690.07,465.88L690.93,466.10L691.80,466.31L692.66,466.52L693.53,466.73L694.39,466.93L695.26,467.13L696.13,467.33L697.00,467.52L697.87,467.71L698.75,467.90L699.62,468.09L700.49,468.27L701.37,468.44L702.25,468.62L703.12,468.79L704.00,468.96L704.88,469.12L705.76,469.29L706.64,469.45L707.52,469.60L708.40,469.76L709.28,469.91L710.16,470.06L711.05,470.20L711.93,470.35L712.81,470.49L713.70,470.63L714.58,470.76L715.46,470.90L716.35,471.03L717.23,471.16L718.12,471.29L719.00,471.41L719.89,471.54L720.77,471.66L721.66,471.78L722.54,471.89L723.43,472.01L724.31,472.12L725.20,472.23L726.08,472.34L726.96,472.45L727.85,472.56L728.73,472.66L729.61,472.76L730.50,472.87L731.38,472.97L732.26,473.06L733.14,473.16L734.02,473.26L734.90,473.35L735.78,473.45L736.66,473.54L737.53,473.63L738.41,473.72L739.29,473.81L740.16,473.90L741.03,473.98L741.91,474.07L742.78,474.15L743.65,474.24L744.52,474.32L745.39,474.40L746.25,474.49L747.12,474.57L747.99,474.65L748.85,474.73L749.71,474.81L750.57,474.89L751.43,474.97L752.29,475.05" fill="none" stroke="#00ff00" stroke-width="2" stroke-linejoin="round" stroke-linecap="butt"/>
<path d="M434.24,428.56L435.02,428.33L435.80,428.09L436.58,427.86L437.36,427.63L438.14,427.40L438.92,427.17L439.70,426.94L440.49,426.72L441.27,426.49L442.05,426.27L442.83,426.05L443.62,425.83L444.40,425.61L445.18,425.39L445.97,425.18L446.75,424.96L447.54,424.75L448.32,424.54L449.11,424.33L449.89,424.12L450.68,423.91L451.46,423.71L452.25,423.51L453.03,423.30L453.82,423.10L454.61,422.90L455.39,422.70L456.18,422.51L456.97,422.31L457.76,422.12L458.54,421.92L459.33,421.73L460.12,421.54L460.91,421.35L461.70,421.16L462.49,420.98L463.27,420.79L464.06,420.61L464.85,420.42L465.64,420.24L466.43,420.06L467.22,419.88L468.01,419.71L468.80,419.53L469.60,419.36L470.39,419.18L471.18,419.01L471.97,418.84L472.76,418.67L473.55,418.50L474.35,418.33L475.14,418.17L475.93,418.00L476.72,417.84L477.52,417.68L478.31,417.51L479.10,417.35L479.90,417.19L480.69,417.04L481.49,416.88L482.28,416.72L483.08,416.57L483.87,416.42L484.67,416.27L485.46,416.11L486.26,415.97L487.05,415.82L487.85,415.67L488.64,415.52L489.44,415.38L490.24,415.23L491.03,415.09L491.83,414.95L492.63,414.81L493.42,414.67L494.22,414.53L495.02,414.39L495.82,414.26L496.62,414.12L497.41,413.99L498.21,413.85L499.01,413.72L499.81,413.59L500.61,413.46L501.41,413.33L502.21,413.21L503.01,413.08L503.81,412.95L504.61,412.83L505.41,412.70L506.21,412.58L507.01,412.46L507.81,412.34L508.61,412.22L509.41,412.10L510.21,411.98L511.01,411.87L511.81,411.75L512.61,411.63L513.42,411.52L514.22,411.41L515.02,411.30L515.82,411.18L516.62,411.07L517.43,410.97L518.23,410.86L519.03,410.75L519.84,410.64L520.64,410.54L521.44,410.43L522.25,410.33L523.05,410.23L523.85,410.12L524.66,410.02L525.46,409.92L526.27,409.82L527.07,409.72L527.88,409.63L528.68,409.53L529.49,409.43L530.29,409.34L531.10,409.24L531.90,409.15L532.71,409.06L533.51,408.97L534.32,408.87L535.12,408.78L535.93,408.69L536.74,408.61L537.54,408.52L538.35,408.43L539.16,408.34L539.96,408.26L540.77,408.17L541.58,408.09L542.38,408.01L543.19,407.92L544.00,407.84L544.81,407.76L545.61,407.68L546.42,407.60L547.23,407.52L548.04,407.44L548.85,407.37L549.66,407.29L550.46,407.21L551.27,407.14L552.08,407.06L552.89,406.99L553.70,406.92L554.51,406.84L555.32,406.77L556.13,406.70L556.94,406.63L557.75,406.56L558.56,406.49L559.37,406.42L560.18,406.35L560.99,406.29L561.80,406.22L562.61,406.15L563.42,406.09L564.23,406.02L565.04,405.96L565.85,405.89L566.66,405.83L567.47,405.77L568.28,405.70L569.09,405.64L569.90,405.58L570.72,405.52L571.53,405.46L572.34,405.40L573.15,405.34L573.96,405.28L574.77,405.23L575.59,405.17L576.40,405.11L577.21,405.06L578.02,405.00L578.83,404.94L579.65,404.89L580.46,404.83L581.27,404.78L582.08,404.73L582.90,404.67L583.71,404.62L584.52,404.57L585.34,404.52L586.15,404.47L586.96,404.42L587.78,404.37L588.59,404.32L589.40,404.27L590.22,404.22L591.03,404.17L591.84,404.12L592.66,404.07L593.47,404.03L594.28,403.98L595.10,403.93L595.91,403.89L596.73,403.84L597.54,403.80L598.36,403.75L599.17,403.71L599.98,403.66L600.80,403.62L601.61,403.58L602.43,403.54L603.24,403.49L604.06,403.45L604.87,403.41L605.68,403.37L606.50,403.34L607.31,403.30L608.13,403.26L608.94,403.22L609.76,403.19L610.57,403.15L611.39,403.12L612.20,403.08L613.01,403.05L613.83,403.02L614.64,402.99L615.46,402.96L616.27,402.93L617.09,402.90L617.90,402.87L618.71,402.85L619.53,402.82L620.34,402.80L621.16,402.77L621.97,402.75L622.78,402.73L623.60,402.71L624.41,402.69L625.23,402.67L626.04,402.65L626.85,402.64L627.67,402.62L628.48,402.61L629.29,402.60L630.11,402.58L630.92,402.57L631.73,402.57L632.54,402.56L633.36,402.55L634.17,402.55L634.98,402.54L635.79,402.54L636.61,402.54L637.42,402.54L638.23,402.54L639.04,402.54L639.85,402.55L640.66,402.55L641.47,402.56L642.29,402.57L643.10,402.58L643.91,402.59L644.72,402.60L645.53,402.62L646.34,402.63L647.15,402.65L647.96,402.67L648.77,402.69L649.58,402.71L650.39,402.74L651.19,402.76L652.00,402.79L652.81,402.82L653.62,402.85L654.43,402.88L655.24,402.92L656.04,402.96L656.85,402.99L657.66,403.03L658.46,403.07L659.27,403.12L660.08,403.16L660.88,403.21L661.69,403.26L662.50,403.31L663.30,403.36L664.11,403.42L664.91,403.48L665.71,403.53L666.52,403.60L667.32,403.66L668.13,403.72L668.93,403.79L669.73,403.86L670.54,403.93L671.34,404.00L672.14,404.08L672.94,404.16L673.74,404.24L674.54,404.32L675.35,404.40L676.15,404.49L676.95,404.58L677.75,404.67L678.55,404.76L679.34,404.86L680.14,404.95L680.94,405.05L681.74,405.16L682.54,405.26L683.33,405.37L684.13,405.48L684.93,405.59L685.72,405.70L686.52,405.82L687.32,405.94L688.11,406.06L688.90,406.19L689.70,406.31L690.49,406.44L691.29,406.57L692.08,406.71L692.87,406.84L693.66,406.98L694.46,407.13L695.25,407.27L696.04,407.42L696.83,407.57L697.62,407.72L698.41,407.88L699.20,408.04L699.99,408.20L700.77,408.36L701.56,408.53L702.35,408.70L703.13,408.87L703.92,409.05L704.71,409.22L705.49,409.41L706.28,409.59L707.06,409.78L707.85,409.97L708.63,410.16L709.41,410.35L710.19,410.55L710.98,410.75L711.76,410.96L712.54,411.17L713.32,411.38L714.10,411.59L714.88,411.81L715.66,412.03L716.43,412.25L717.21,412.48L717.99,412.71L718.77,412.94L719.54,413.18L720.32,413.42L721.09,413.66L721.87,413.91L722.64,414.15L723.41,414.41L724.19,414.66L724.96,414.92L725.73,415.18L726.50,415.45L727.27,415.72L728.04,415.99L728.81,416.27L729.58,416.55L730.35,416.83L731.11,417.12L731.88,417.41L732.65,417.70L733.41,418.00L734.18,418.30L734.94,418.60L735.70,418.91L736.47,419.22L737.23,419.53L737.99,419.85L738.75,420.17L739.51,420.50L740.27,420.83L741.03,421.16L741.79,421.50L742.55,421.84L743.30,422.18L744.06,422.53L744.81,422.88L745.57,423.24L746.32,423.60L747.08,423.96L747.83,424.33L748.58,424.70L749.33,425.08L750.08,425.46L750.83,425.84L751.58,426.23L752.33,426.62" fill="none" stroke="#ff0000" stroke-width="2" stroke-linejoin="round" stroke-linecap="butt"/>
<path d="M434.42,486.61L435.22,486.59L436.02,486.57L436.83,486.54L437.63,486.52L438.43,486.50L439.24,486.48L440.04,486.46L440.85,486.43L441.65,486.41L442.46,486.39L443.26,486.37L444.06,486.35L444.87,486.33L445.67,486.31L446.48,486.28L447.28,486.26L448.09,486.24L448.89,486.22L449.70,486.20L450.50,486.18L451.31,486.16L452.11,486.14L452.92,486.12L453.72,486.10L454.53,486.08L455.33,486.06L456.14,486.04L456.94,486.02L457.75,486.00L458.56,485.98L459.36,485.96L460.17,485.94L460.97,485.92L461.78,485.90L462.58,485.88L463.39,485.86L464.20,485.84L465.00,485.82L465.81,485.80L466.61,485.78L467.42,485.75L468.22,485.73L469.03,485.71L469.84,485.69L470.64,485.67L471.45,485.65L472.26,485.63L473.06,485.61L473.87,485.59L474.67,485.57L475.48,485.55L476.29,485.53L477.09,485.51L477.90,485.49L478.71,485.47L479.51,485.44L480.32,485.42L481.12,485.40L481.93,485.38L482.74,485.36L483.54,485.34L484.35,485.31L485.16,485.29L485.96,485.27L486.77,485.25L487.58,485.22L488.38,485.20L489.19,485.18L490.00,485.16L490.80,485.13L491.61,485.11L492.42,485.09L493.22,485.06L494.03,485.04L494.84,485.01L495.64,484.99L496.45,484.97L497.26,484.94L498.06,484.92L498.87,484.89L499.68,484.87L500.48,484.84L501.29,484.81L502.10,484.79L502.91,484.76L503.71,484.74L504.52,484.71L505.33,484.68L506.13,484.66L506.94,484.63L507.75,484.60L508.55,484.57L509.36,484.54L510.17,484.52L510.97,484.49L511.78,484.46L512.59,484.43L513.39,484.40L514.20,484.37L515.01,484.34L515.81,484.31L516.62,484.28L517.43,484.25L518.23,484.21L519.04,484.18L519.85,484.15L520.65,484.12L521.46,484.08L522.27,484.05L523.07,484.02L523.88,483.98L524.69,483.95L525.49,483.91L526.30,483.88L527.10,483.84L527.91,483.81L528.72,483.77L529.52,483.74L530.33,483.70L531.14,483.66L531.94,483.62L532.75,483.58L533.55,483.55L534.36,483.51L535.17,483.47L535.97,483.43L536.78,483.39L537.59,483.35L538.39,483.31L539.20,483.26L540.00,483.22L540.81,483.18L541.61,483.14L542.42,483.09L543.23,483.05L544.03,483.00L544.84,482.96L545.64,482.91L546.45,482.87L547.25,482.82L548.06,482.77L548.87,482.73L549.67,482.68L550.48,482.63L551.28,482.58L552.09,482.53L552.89,482.48L553.70,482.43L554.50,482.38L555.31,482.33L556.11,482.28L556.92,482.22L557.72,482.17L558.53,482.12L559.33,482.06L560.14,482.01L560.94,481.95L561.74,481.90L562.55,481.84L563.35,481.78L564.16,481.73L564.96,481.67L565.77,481.61L566.57,481.55L567.37,481.49L568.18,481.43L568.98,481.37L569.79,481.30L570.59,481.24L571.39,481.18L572.20,481.11L573.00,481.05L573.80,480.98L574.61,480.92L575.41,480.85L576.21,480.78L577.02,480.72L577.82,480.65L578.62,480.58L579.43,480.51L580.23,480.44L581.03,480.37L581.84,480.29L582.64,480.22L583.44,480.15L584.24,480.07L585.05,480.00L585.85,479.92L586.65,479.85L587.45,479.77L588.25,479.69L589.06,479.61L589.86,479.53L590.66,479.45L591.46,479.37L592.26,479.29L593.06,479.21L593.87,479.13L594.67,479.04L595.47,478.96L596.27,478.87L597.07,478.79L597.87,478.70L598.67,478.61L599.47,478.52L600.27,478.43L601.07,478.34L601.87,478.25L602.67,478.16L603.48,478.07L604.28,477.98L605.08,477.88L605.87,477.79L606.67,477.69L607.47,477.59L608.27,477.50L609.07,477.40L609.87,477.30L610.67,477.20L611.47,477.10L612.27,477.00L613.07,476.89L613.87,476.79L614.67,476.68L615.46,476.58L616.26,476.47L617.06,476.37L617.86,476.26L618.66,476.15L619.46,476.04L620.25,475.93L621.05,475.82L621.85,475.70L622.65,475.59L623.44,475.47L624.24,475.36L625.04,475.24L625.83,475.12L626.63,475.01L627.43,474.89L628.22,474.77L629.02,474.65L629.82,474.52L630.61,474.40L631.41,474.28L632.20,474.15L633.00,474.03L633.80,473.90L634.59,473.77L635.39,473.64L636.18,473.51L636.98,473.38L637.77,473.25L638.57,473.12L639.36,472.99L640.16,472.85L640.95,472.72L641.74,472.58L642.54,472.44L643.33,472.31L644.13,472.17L644.92,472.03L645.71,471.89L646.51,471.75L647.30,471.60L648.09,471.46L648.89,471.32L649.68,471.17L650.47,471.03L651.26,470.88L652.06,470.73L652.85,470.59L653.64,470.44L654.43,470.29L655.22,470.14L656.02,469.99L656.81,469.83L657.60,469.68L658.39,469.53L659.18,469.37L659.97,469.22L660.76,469.06L661.56,468.90L662.35,468.74L663.14,468.59L663.93,468.43L664.72,468.27L665.51,468.10L666.30,467.94L667.09,467.78L667.88,467.62L668.67,467.45L669.45,467.29L670.24,467.12L671.03,466.95L671.82,466.79L672.61,466.62L673.40,466.45L674.19,466.28L674.98,466.11L675.76,465.94L676.55,465.76L677.34,465.59L678.13,465.42L678.92,465.24L679.70,465.07L680.49,464.89L681.28,464.72L682.06,464.54L682.85,464.36L683.64,464.18L684.42,464.00L685.21,463.82L686.00,463.64L686.78,463.46L687.57,463.28L688.35,463.09L689.14,462.91L689.93,462.73L690.71,462.54L691.50,462.35L692.28,462.17L693.07,461.98L693.85,461.79L694.63,461.60L695.42,461.41L696.20,461.22L696.99,461.03L697.77,460.84L698.55,460.65L699.34,460.46L700.12,460.26L700.90,460.07L701.69,459.87L702.47,459.68L703.25,459.48L704.04,459.28L704.82,459.09L705.60,458.89L706.38,458.69L707.17,458.49L707.95,458.29L708.73,458.09L709.51,457.89L710.29,457.69L711.07,457.48L711.85,457.28L712.63,457.08L713.42,456.87L714.20,456.67L714.98,456.46L715.76,456.25L716.54,456.05L717.32,455.84L718.10,455.63L718.88,455.42L719.66,455.21L720.43,455.00L721.21,454.79L721.99,454.58L722.77,454.37L723.55,454.16L724.33,453.95L725.11,453.73L725.88,453.52L726.66,453.30L727.44,453.09L728.22,452.87L729.00,452.66L729.77,452.44L730.55,452.22L731.33,452.00L732.10,451.79L732.88,451.57L733.66,451.35L734.43,451.13L735.21,450.91L735.98,450.69L736.76,450.46L737.54,450.24L738.31,450.02L739.09,449.80L739.86,449.57L740.64,449.35L741.41,449.12L742.18,448.90L742.96,448.67L743.73,448.45L744.51,448.22L745.28,447.99L746.05,447.76L746.83,447.54L747.60,447.31L748.37,447.08L749.15,446.85L749.92,446.62L750.69,446.39L751.47,446.16L752.24,445.92" fill="none" stroke="#000000" stroke-width="2" stroke-linejoin="round" stroke-linecap="butt"/>
<path d="M434.40,490.90v-4.00M434.40,291.90v4.00M450.30,490.90v-2.30M450.30,291.90v2.30M466.20,490.90v-2.30M466.20,291.90v2.30M482.10,490.90v-2.30M482.10,291.90v2.30M498.00,490.90v-4.00M498.00,291.90v4.00M513.90,490.90v-2.30M513.90,291.90v2.30M529.80,490.90v-2.30M529.80,291.90v2.30M545.70,490.90v-2.30M545.70,291.90v2.30M561.60,490.90v-4.00M561.60,291.90v4.00M577.50,490.90v-2.30M577.50,291.90v2.30M593.40,490.90v-2.30M593.40,291.90v2.30M609.30,490.90v-2.30M609.30,291.90v2.30M625.20,490.90v-4.00M625.20,291.90v4.00M641.10,490.90v-2.30M641.10,291.90v2.30M657.00,490.90v-2.30M657.00,291.90v2.30M672.90,490.90v-2.30M672.90,291.90v2.30M688.80,490.90v-4.00M688.80,291.90v4.00M704.70,490.90v-2.30M704.70,291.90v2.30M720.60,490.90v-2.30M720.60,291.90v2.30M736.50,490.90v-2.30M736.50,291.90v2.30M752.40,490.90v-4.00M752.40,291.90v4.00M427.50,487.80h4.00M759.20,487.80h-4.00M427.50,481.26h2.30M759.20,481.26h-2.30M427.50,474.73h2.30M759.20,474.73h-2.30M427.50,468.19h2.30M759.20,468.19h-2.30M427.50,461.66h2.30M759.20,461.66h-2.30M427.50,455.12h4.00M759.20,455.12h-4.00M427.50,448.58h2.30M759.20,448.58h-2.30M427.50,442.05h2.30M759.20,442.05h-2.30M427.50,435.51h2.30M759.20,435.51h-2.30M427.50,428.98h2.30M759.20,428.98h-2.30M427.50,422.44h4.00M759.20,422.44h-4.00M427.50,415.90h2.30M759.20,415.90h-2.30M427.50,409.37h2.30M759.20,409.37h-2.30M427.50,402.83h2.30M759.20,402.83h-2.30M427.50,396.30h2.30M759.20,396.30h-2.30M427.50,389.76h4.00M759.20,389.76h-4.00M427.50,383.22h2.30M759.20,383.22h-2.30M427.50,376.69h2.30M759.20,376.69h-2.30M427.50,370.15h2.30M759.20,370.15h-2.30M427.50,363.62h2.30M759.20,363.62h-2.30M427.50,357.08h4.00M759.20,357.08h-4.00M427.50,350.54h2.30M759.20,350.54h-2.30M427.50,344.01h2.30M759.20,344.01h-2.30M427.50,337.47h2.30M759.20,337.47h-2.30M427.50,330.94h2.30M759.20,330.94h-2.30M427.50,324.40h4.00M759.20,324.40h-4.00M427.50,317.86h2.30M759.20,317.86h-2.30M427.50,311.33h2.30M759.20,311.33h-2.30M427.50,304.79h2.30M759.20,304.79h-2.30M427.50,298.26h2.30M759.20,298.26h-2.30M427.50,291.72h4.00M759.20,291.72h-4.00" stroke="#333" stroke-width="1" fill="none"/>
<rect x="427.50" y="291.90" width="331.70" height="199.00" fill="none" stroke="#3a3a3a" stroke-width="1.3"/>
<path d="M659.6,45.00H688.6" stroke="#0000ff" stroke-width="2"/>
<path d="M659.6,63.00H688.6" stroke="#00ff00" stroke-width="2"/>
<path d="M659.6,81.00H688.6" stroke="#ff0000" stroke-width="2"/>
<path d="M659.6,102.00H688.6" stroke="#000000" stroke-width="2"/>
<text x="60.00" y="241.50" text-anchor="middle" font-size="15">0</text>
<text x="122.80" y="241.50" text-anchor="middle" font-size="15">0.2</text>
<text x="185.60" y="241.50" text-anchor="middle" font-size="15">0.4</text>
<text x="248.40" y="241.50" text-anchor="middle" font-size="15">0.6</text>
<text x="311.20" y="241.50" text-anchor="middle" font-size="15">0.8</text>
<text x="374.00" y="241.50" text-anchor="middle" font-size="15">1.0</text>
<text x="48.80" y="229.20" text-anchor="end" font-size="15">0</text>
<text x="48.80" y="190.00" text-anchor="end" font-size="15">0.2</text>
<text x="48.80" y="150.80" text-anchor="end" font-size="15">0.4</text>
<text x="48.80" y="111.60" text-anchor="end" font-size="15">0.6</text>
<text x="48.80" y="72.40" text-anchor="end" font-size="15">0.8</text>
<text x="48.80" y="33.20" text-anchor="end" font-size="15">1.0</text>
<text x="437.50" y="243.80" text-anchor="middle" font-size="15">0</text>
<text x="500.30" y="243.80" text-anchor="middle" font-size="15">0.2</text>
<text x="563.10" y="243.80" text-anchor="middle" font-size="15">0.4</text>
<text x="625.90" y="243.80" text-anchor="middle" font-size="15">0.6</text>
<text x="688.70" y="243.80" text-anchor="middle" font-size="15">0.8</text>
<text x="751.50" y="243.80" text-anchor="middle" font-size="15">1.0</text>
<text x="426.20" y="224.60" text-anchor="end" font-size="15">0</text>
<text x="426.20" y="186.92" text-anchor="end" font-size="15">0.2</text>
<text x="426.20" y="149.24" text-anchor="end" font-size="15">0.4</text>
<text x="426.20" y="111.56" text-anchor="end" font-size="15">0.6</text>
<text x="426.20" y="73.88" text-anchor="end" font-size="15">0.8</text>
<text x="426.20" y="36.20" text-anchor="end" font-size="15">1.0</text>
<text x="61.60" y="505.60" text-anchor="middle" font-size="15">0</text>
<text x="124.40" y="505.60" text-anchor="middle" font-size="15">0.2</text>
<text x="187.20" y="505.60" text-anchor="middle" font-size="15">0.4</text>
<text x="250.00" y="505.60" text-anchor="middle" font-size="15">0.6</text>
<text x="312.80" y="505.60" text-anchor="middle" font-size="15">0.8</text>
<text x="375.60" y="505.60" text-anchor="middle" font-size="15">1.0</text>
<text x="50.80" y="489.90" text-anchor="end" font-size="15">0</text>
<text x="50.80" y="457.70" text-anchor="end" font-size="15">0.1</text>
<text x="50.80" y="425.50" text-anchor="end" font-size="15">0.2</text>
<text x="50.80" y="393.30" text-anchor="end" font-size="15">0.3</text>
<text x="50.80" y="361.10" text-anchor="end" font-size="15">0.4</text>
<text x="50.80" y="328.90" text-anchor="end" font-size="15">0.5</text>
<text x="50.80" y="296.70" text-anchor="end" font-size="15">0.6</text>
<text x="434.40" y="509.20" text-anchor="middle" font-size="15">0</text>
<text x="498.00" y="509.20" text-anchor="middle" font-size="15">0.2</text>
<text x="561.60" y="509.20" text-anchor="middle" font-size="15">0.4</text>
<text x="625.20" y="509.20" text-anchor="middle" font-size="15">0.6</text>
<text x="688.80" y="509.20" text-anchor="middle" font-size="15">0.8</text>
<text x="752.40" y="509.20" text-anchor="middle" font-size="15">1.0</text>
<text x="422.90" y="493.00" text-anchor="end" font-size="15">0</text>
<text x="422.90" y="460.32" text-anchor="end" font-size="15">0.1</text>
<text x="422.90" y="427.64" text-anchor="end" font-size="15">0.2</text>
<text x="422.90" y="394.96" text-anchor="end" font-size="15">0.3</text>
<text x="422.90" y="362.28" text-anchor="end" font-size="15">0.4</text>
<text x="422.90" y="329.60" text-anchor="end" font-size="15">0.5</text>
<text x="422.90" y="296.92" text-anchor="end" font-size="15">0.6</text>
<text x="32.00" y="12.60" text-anchor="start" font-size="15">(<tspan font-style="italic">a</tspan>)</text>
<text x="182.20" y="12.40" text-anchor="start" font-size="15">punishment</text>
<text x="409.50" y="13.60" text-anchor="start" font-size="15">(<tspan font-style="italic">b</tspan>)</text>
<text x="573.80" y="14.60" text-anchor="start" font-size="15">reward</text>
<text x="31.00" y="274.90" text-anchor="start" font-size="15">(<tspan font-style="italic">c</tspan>)</text>
<text x="406.50" y="275.40" text-anchor="start" font-size="15">(<tspan font-style="italic">d</tspan>)</text>
<text x="281.50" y="62.90" text-anchor="start" font-size="15"><tspan font-style="italic">u</tspan> <tspan dy="1.3">=</tspan><tspan dy="-1.3"> 2.0</tspan></text>
<text x="281.00" y="331.10" text-anchor="start" font-size="15"><tspan font-style="italic">u</tspan> <tspan dy="1.3">=</tspan><tspan dy="-1.3"> 1.0</tspan></text>
<text x="217.70" y="263.00" text-anchor="middle" font-size="17.5" font-style="italic">α</text>
<text x="595.50" y="264.60" text-anchor="middle" font-size="17.5" font-style="italic">α</text>
<text x="217.60" y="527.00" text-anchor="middle" font-size="17.5" font-style="italic">α</text>
<text x="595.50" y="529.90" text-anchor="middle" font-size="17.5" font-style="italic">α</text>
<text x="0" y="0" font-size="15" text-anchor="middle" transform="translate(12.1,258.1) rotate(-90)">frequency of cooperation</text>
<text x="694.20" y="49.40" text-anchor="start" font-size="17.5">ϵ</text>
<text x="707.60" y="50.70" text-anchor="start" font-size="15">=</text>
<text x="719.30" y="49.40" text-anchor="start" font-size="15">0.5</text>
<text x="694.20" y="67.50" text-anchor="start" font-size="17.5">ϵ</text>
<text x="707.60" y="68.80" text-anchor="start" font-size="15">=</text>
<text x="719.30" y="67.50" text-anchor="start" font-size="15">2.0</text>
<text x="694.20" y="85.50" text-anchor="start" font-size="17.5">ϵ</text>
<text x="707.60" y="86.80" text-anchor="start" font-size="15">=</text>
<text x="719.30" y="85.50" text-anchor="start" font-size="15">4.0</text>
<text x="694.20" y="105.80" text-anchor="start" font-size="17.5">ϵ</text>
<text x="707.60" y="107.10" text-anchor="start" font-size="15">=</text>
<text x="719.30" y="105.80" text-anchor="start" font-size="15">6.0</text>
</svg>
</body></html>
